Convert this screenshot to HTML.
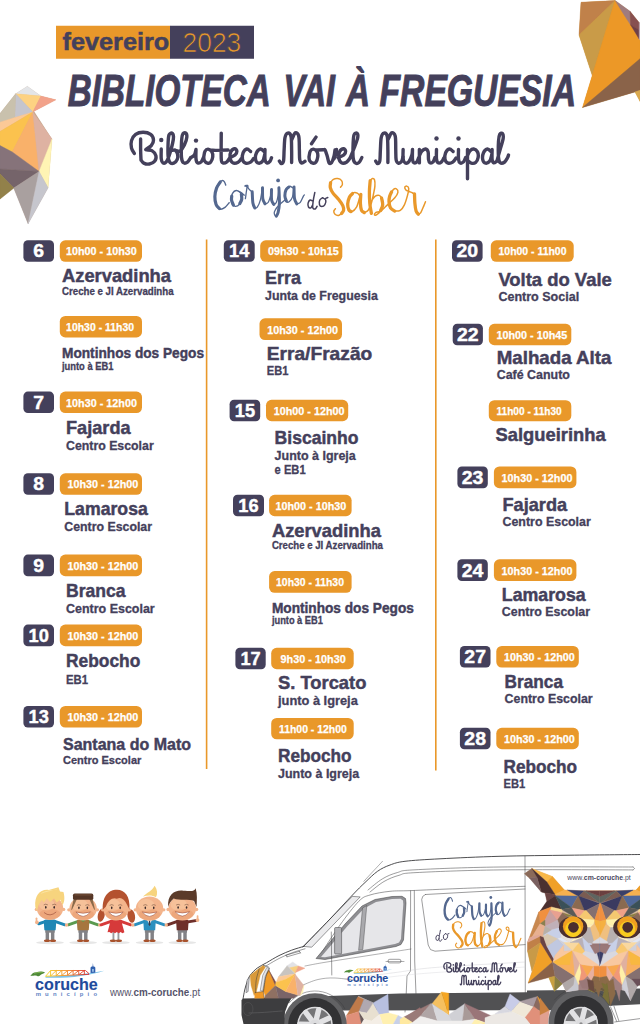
<!DOCTYPE html>
<html><head><meta charset="utf-8"><title>Biblioteca vai à Freguesia</title>
<style>
html,body{margin:0;padding:0;background:#fff;}
body{width:640px;height:1024px;overflow:hidden;font-family:"Liberation Sans",sans-serif;}
svg{display:block}
</style></head><body>
<svg width="640" height="1024" viewBox="0 0 640 1024">
<rect width="640" height="1024" fill="#fff"/>
<rect x="56" y="25.75" width="114.2" height="33" fill="#e9982a"/>
<rect x="170" y="25.75" width="84" height="33" fill="#44405b"/>
<text x="62.6" y="49.6" font-family="Liberation Sans, sans-serif" font-size="24" font-weight="700" font-style="normal" fill="#44405b" text-anchor="start" textLength="106.6" lengthAdjust="spacingAndGlyphs" stroke="#44405b" stroke-width="0.5">fevereiro</text>
<text x="182.6" y="51.9" font-family="Liberation Sans, sans-serif" font-size="27" font-weight="400" font-style="normal" fill="#e9982a" text-anchor="start" textLength="58.6" lengthAdjust="spacingAndGlyphs" stroke="#44405b" stroke-width="0.7">2023</text>
<text x="67.8" y="106.4" font-family="Liberation Sans, sans-serif" font-size="44" font-weight="700" font-style="italic" fill="#44405b" text-anchor="start" textLength="203.0" lengthAdjust="spacingAndGlyphs" stroke="#44405b" stroke-width="1">BIBLIOTECA</text>
<text x="283.5" y="106.4" font-family="Liberation Sans, sans-serif" font-size="44" font-weight="700" font-style="italic" fill="#44405b" text-anchor="start" textLength="51.5" lengthAdjust="spacingAndGlyphs" stroke="#44405b" stroke-width="1">VAI</text>
<text x="346.0" y="106.4" font-family="Liberation Sans, sans-serif" font-size="44" font-weight="700" font-style="italic" fill="#44405b" text-anchor="start" textLength="24.0" lengthAdjust="spacingAndGlyphs" stroke="#44405b" stroke-width="1">À</text>
<text x="379.5" y="106.4" font-family="Liberation Sans, sans-serif" font-size="44" font-weight="700" font-style="italic" fill="#44405b" text-anchor="start" textLength="196.5" lengthAdjust="spacingAndGlyphs" stroke="#44405b" stroke-width="1">FREGUESIA</text>
<rect x="205.8" y="239.5" width="1.6" height="529.5" fill="#e9982a"/>
<rect x="435" y="239.5" width="1.6" height="531" fill="#e9982a"/>
<rect x="23.4" y="240.3" width="30.6" height="21.5" rx="4.5" fill="#44405b"/>
<text x="38.7" y="257.3" font-family="Liberation Sans, sans-serif" font-size="18.3" font-weight="700" font-style="normal" fill="#fff" text-anchor="middle" textLength="10.8" lengthAdjust="spacingAndGlyphs" stroke="#fff" stroke-width="0.4">6</text>
<rect x="59.8" y="240.3" width="82.2" height="21.5" rx="5.5" fill="#e9982a"/>
<text x="66.0" y="255.3" font-family="Liberation Sans, sans-serif" font-size="11.6" font-weight="700" font-style="normal" fill="#fff" text-anchor="start" textLength="70.8" lengthAdjust="spacingAndGlyphs" stroke="#fff" stroke-width="0.25">10h00 - 10h30</text>
<text x="62.0" y="281.6" font-family="Liberation Sans, sans-serif" font-size="18.4" font-weight="700" font-style="normal" fill="#44405b" text-anchor="start" textLength="109.0" lengthAdjust="spacingAndGlyphs" stroke="#44405b" stroke-width="0.45">Azervadinha</text>
<text x="62.0" y="294.6" font-family="Liberation Sans, sans-serif" font-size="10.4" font-weight="700" font-style="normal" fill="#44405b" text-anchor="start" textLength="111.6" lengthAdjust="spacingAndGlyphs" stroke="#44405b" stroke-width="0.3">Creche e JI Azervadinha</text>
<rect x="59.8" y="316.0" width="82.2" height="21.4" rx="5.5" fill="#e9982a"/>
<text x="66.1" y="330.9" font-family="Liberation Sans, sans-serif" font-size="11.6" font-weight="700" font-style="normal" fill="#fff" text-anchor="start" textLength="68.0" lengthAdjust="spacingAndGlyphs" stroke="#fff" stroke-width="0.25">10h30 - 11h30</text>
<text x="62.0" y="357.9" font-family="Liberation Sans, sans-serif" font-size="14.8" font-weight="700" font-style="normal" fill="#44405b" text-anchor="start" textLength="142.0" lengthAdjust="spacingAndGlyphs" stroke="#44405b" stroke-width="0.45">Montinhos dos Pegos</text>
<text x="62.0" y="370.0" font-family="Liberation Sans, sans-serif" font-size="10.4" font-weight="700" font-style="normal" fill="#44405b" text-anchor="start" textLength="51.4" lengthAdjust="spacingAndGlyphs" stroke="#44405b" stroke-width="0.3">junto à EB1</text>
<rect x="23.4" y="391.6" width="30.6" height="21.4" rx="4.5" fill="#44405b"/>
<text x="38.7" y="408.5" font-family="Liberation Sans, sans-serif" font-size="18.3" font-weight="700" font-style="normal" fill="#fff" text-anchor="middle" textLength="10.8" lengthAdjust="spacingAndGlyphs" stroke="#fff" stroke-width="0.4">7</text>
<rect x="59.8" y="391.6" width="82.2" height="21.4" rx="5.5" fill="#e9982a"/>
<text x="66.1" y="406.5" font-family="Liberation Sans, sans-serif" font-size="11.6" font-weight="700" font-style="normal" fill="#fff" text-anchor="start" textLength="70.8" lengthAdjust="spacingAndGlyphs" stroke="#fff" stroke-width="0.25">10h30 - 12h00</text>
<text x="66.0" y="434.4" font-family="Liberation Sans, sans-serif" font-size="18.4" font-weight="700" font-style="normal" fill="#44405b" text-anchor="start" textLength="64.6" lengthAdjust="spacingAndGlyphs" stroke="#44405b" stroke-width="0.45">Fajarda</text>
<text x="66.0" y="450.0" font-family="Liberation Sans, sans-serif" font-size="12.8" font-weight="700" font-style="normal" fill="#44405b" text-anchor="start" textLength="87.7" lengthAdjust="spacingAndGlyphs" stroke="#44405b" stroke-width="0.3">Centro Escolar</text>
<rect x="23.4" y="473.3" width="30.6" height="21.5" rx="4.5" fill="#44405b"/>
<text x="38.7" y="490.3" font-family="Liberation Sans, sans-serif" font-size="18.3" font-weight="700" font-style="normal" fill="#fff" text-anchor="middle" textLength="10.8" lengthAdjust="spacingAndGlyphs" stroke="#fff" stroke-width="0.4">8</text>
<rect x="59.8" y="473.3" width="82.2" height="21.5" rx="5.5" fill="#e9982a"/>
<text x="67.5" y="488.3" font-family="Liberation Sans, sans-serif" font-size="11.6" font-weight="700" font-style="normal" fill="#fff" text-anchor="start" textLength="70.8" lengthAdjust="spacingAndGlyphs" stroke="#fff" stroke-width="0.25">10h30 - 12h00</text>
<text x="64.3" y="515.4" font-family="Liberation Sans, sans-serif" font-size="18.4" font-weight="700" font-style="normal" fill="#44405b" text-anchor="start" textLength="83.5" lengthAdjust="spacingAndGlyphs" stroke="#44405b" stroke-width="0.45">Lamarosa</text>
<text x="64.3" y="530.9" font-family="Liberation Sans, sans-serif" font-size="12.8" font-weight="700" font-style="normal" fill="#44405b" text-anchor="start" textLength="87.7" lengthAdjust="spacingAndGlyphs" stroke="#44405b" stroke-width="0.3">Centro Escolar</text>
<rect x="23.4" y="554.6" width="30.6" height="21.6" rx="4.5" fill="#44405b"/>
<text x="38.7" y="571.7" font-family="Liberation Sans, sans-serif" font-size="18.3" font-weight="700" font-style="normal" fill="#fff" text-anchor="middle" textLength="10.8" lengthAdjust="spacingAndGlyphs" stroke="#fff" stroke-width="0.4">9</text>
<rect x="59.8" y="554.6" width="82.2" height="21.6" rx="5.5" fill="#e9982a"/>
<text x="67.5" y="569.7" font-family="Liberation Sans, sans-serif" font-size="11.6" font-weight="700" font-style="normal" fill="#fff" text-anchor="start" textLength="70.8" lengthAdjust="spacingAndGlyphs" stroke="#fff" stroke-width="0.25">10h30 - 12h00</text>
<text x="66.0" y="597.2" font-family="Liberation Sans, sans-serif" font-size="18.4" font-weight="700" font-style="normal" fill="#44405b" text-anchor="start" textLength="59.5" lengthAdjust="spacingAndGlyphs" stroke="#44405b" stroke-width="0.45">Branca</text>
<text x="66.0" y="613.0" font-family="Liberation Sans, sans-serif" font-size="12.8" font-weight="700" font-style="normal" fill="#44405b" text-anchor="start" textLength="88.7" lengthAdjust="spacingAndGlyphs" stroke="#44405b" stroke-width="0.3">Centro Escolar</text>
<rect x="23.4" y="624.6" width="30.6" height="21.6" rx="4.5" fill="#44405b"/>
<text x="38.7" y="641.7" font-family="Liberation Sans, sans-serif" font-size="18.3" font-weight="700" font-style="normal" fill="#fff" text-anchor="middle" textLength="20.3" lengthAdjust="spacingAndGlyphs" stroke="#fff" stroke-width="0.4">10</text>
<rect x="59.8" y="624.6" width="82.2" height="21.6" rx="5.5" fill="#e9982a"/>
<text x="67.5" y="639.7" font-family="Liberation Sans, sans-serif" font-size="11.6" font-weight="700" font-style="normal" fill="#fff" text-anchor="start" textLength="70.8" lengthAdjust="spacingAndGlyphs" stroke="#fff" stroke-width="0.25">10h30 - 12h00</text>
<text x="66.0" y="667.3" font-family="Liberation Sans, sans-serif" font-size="18.4" font-weight="700" font-style="normal" fill="#44405b" text-anchor="start" textLength="74.3" lengthAdjust="spacingAndGlyphs" stroke="#44405b" stroke-width="0.45">Rebocho</text>
<text x="66.0" y="683.5" font-family="Liberation Sans, sans-serif" font-size="12.8" font-weight="700" font-style="normal" fill="#44405b" text-anchor="start" textLength="22.0" lengthAdjust="spacingAndGlyphs" stroke="#44405b" stroke-width="0.3">EB1</text>
<rect x="23.4" y="706.0" width="30.6" height="21.5" rx="4.5" fill="#44405b"/>
<text x="38.7" y="723.0" font-family="Liberation Sans, sans-serif" font-size="18.3" font-weight="700" font-style="normal" fill="#fff" text-anchor="middle" textLength="20.3" lengthAdjust="spacingAndGlyphs" stroke="#fff" stroke-width="0.4">13</text>
<rect x="59.8" y="706.0" width="82.2" height="21.5" rx="5.5" fill="#e9982a"/>
<text x="67.5" y="721.0" font-family="Liberation Sans, sans-serif" font-size="11.6" font-weight="700" font-style="normal" fill="#fff" text-anchor="start" textLength="70.8" lengthAdjust="spacingAndGlyphs" stroke="#fff" stroke-width="0.25">10h30 - 12h00</text>
<text x="63.0" y="750.3" font-family="Liberation Sans, sans-serif" font-size="16.8" font-weight="700" font-style="normal" fill="#44405b" text-anchor="start" textLength="128.0" lengthAdjust="spacingAndGlyphs" stroke="#44405b" stroke-width="0.45">Santana do Mato</text>
<text x="63.0" y="763.7" font-family="Liberation Sans, sans-serif" font-size="11.4" font-weight="700" font-style="normal" fill="#44405b" text-anchor="start" textLength="78.3" lengthAdjust="spacingAndGlyphs" stroke="#44405b" stroke-width="0.3">Centro Escolar</text>
<rect x="223.8" y="240.3" width="30.9" height="21.5" rx="4.5" fill="#44405b"/>
<text x="239.2" y="257.3" font-family="Liberation Sans, sans-serif" font-size="18.3" font-weight="700" font-style="normal" fill="#fff" text-anchor="middle" textLength="20.3" lengthAdjust="spacingAndGlyphs" stroke="#fff" stroke-width="0.4">14</text>
<rect x="260.2" y="240.3" width="82.1" height="21.5" rx="5.5" fill="#e9982a"/>
<text x="267.9" y="255.3" font-family="Liberation Sans, sans-serif" font-size="11.6" font-weight="700" font-style="normal" fill="#fff" text-anchor="start" textLength="70.8" lengthAdjust="spacingAndGlyphs" stroke="#fff" stroke-width="0.25">09h30 - 10h15</text>
<text x="265.0" y="284.3" font-family="Liberation Sans, sans-serif" font-size="18.4" font-weight="700" font-style="normal" fill="#44405b" text-anchor="start" textLength="36.0" lengthAdjust="spacingAndGlyphs" stroke="#44405b" stroke-width="0.45">Erra</text>
<text x="265.0" y="299.8" font-family="Liberation Sans, sans-serif" font-size="12.8" font-weight="700" font-style="normal" fill="#44405b" text-anchor="start" textLength="112.8" lengthAdjust="spacingAndGlyphs" stroke="#44405b" stroke-width="0.3">Junta de Freguesia</text>
<rect x="259.5" y="318.3" width="82.5" height="21.7" rx="5.5" fill="#e9982a"/>
<text x="267.2" y="333.5" font-family="Liberation Sans, sans-serif" font-size="11.6" font-weight="700" font-style="normal" fill="#fff" text-anchor="start" textLength="70.8" lengthAdjust="spacingAndGlyphs" stroke="#fff" stroke-width="0.25">10h30 - 12h00</text>
<text x="266.7" y="359.6" font-family="Liberation Sans, sans-serif" font-size="18.4" font-weight="700" font-style="normal" fill="#44405b" text-anchor="start" textLength="105.6" lengthAdjust="spacingAndGlyphs" stroke="#44405b" stroke-width="0.45">Erra/Frazão</text>
<text x="266.7" y="375.4" font-family="Liberation Sans, sans-serif" font-size="12.8" font-weight="700" font-style="normal" fill="#44405b" text-anchor="start" textLength="21.7" lengthAdjust="spacingAndGlyphs" stroke="#44405b" stroke-width="0.3">EB1</text>
<rect x="229.6" y="399.8" width="30.6" height="21.4" rx="4.5" fill="#44405b"/>
<text x="244.9" y="416.7" font-family="Liberation Sans, sans-serif" font-size="18.3" font-weight="700" font-style="normal" fill="#fff" text-anchor="middle" textLength="20.3" lengthAdjust="spacingAndGlyphs" stroke="#fff" stroke-width="0.4">15</text>
<rect x="266.0" y="399.8" width="82.2" height="21.4" rx="5.5" fill="#e9982a"/>
<text x="273.7" y="414.7" font-family="Liberation Sans, sans-serif" font-size="11.6" font-weight="700" font-style="normal" fill="#fff" text-anchor="start" textLength="70.8" lengthAdjust="spacingAndGlyphs" stroke="#fff" stroke-width="0.25">10h00 - 12h00</text>
<text x="274.6" y="443.8" font-family="Liberation Sans, sans-serif" font-size="18.4" font-weight="700" font-style="normal" fill="#44405b" text-anchor="start" textLength="83.9" lengthAdjust="spacingAndGlyphs" stroke="#44405b" stroke-width="0.45">Biscainho</text>
<text x="274.6" y="459.6" font-family="Liberation Sans, sans-serif" font-size="12.8" font-weight="700" font-style="normal" fill="#44405b" text-anchor="start" textLength="81.2" lengthAdjust="spacingAndGlyphs" stroke="#44405b" stroke-width="0.3">Junto à Igreja</text>
<text x="274.6" y="474.0" font-family="Liberation Sans, sans-serif" font-size="12.8" font-weight="700" font-style="normal" fill="#44405b" text-anchor="start" textLength="31.0" lengthAdjust="spacingAndGlyphs" stroke="#44405b" stroke-width="0.3">e EB1</text>
<rect x="233.0" y="494.8" width="31.0" height="21.4" rx="4.5" fill="#44405b"/>
<text x="248.5" y="511.7" font-family="Liberation Sans, sans-serif" font-size="18.3" font-weight="700" font-style="normal" fill="#fff" text-anchor="middle" textLength="20.3" lengthAdjust="spacingAndGlyphs" stroke="#fff" stroke-width="0.4">16</text>
<rect x="269.1" y="494.8" width="82.5" height="21.4" rx="5.5" fill="#e9982a"/>
<text x="275.5" y="509.7" font-family="Liberation Sans, sans-serif" font-size="11.6" font-weight="700" font-style="normal" fill="#fff" text-anchor="start" textLength="70.8" lengthAdjust="spacingAndGlyphs" stroke="#fff" stroke-width="0.25">10h00 - 10h30</text>
<text x="271.9" y="536.7" font-family="Liberation Sans, sans-serif" font-size="18.4" font-weight="700" font-style="normal" fill="#44405b" text-anchor="start" textLength="109.0" lengthAdjust="spacingAndGlyphs" stroke="#44405b" stroke-width="0.45">Azervadinha</text>
<text x="271.9" y="549.1" font-family="Liberation Sans, sans-serif" font-size="10.4" font-weight="700" font-style="normal" fill="#44405b" text-anchor="start" textLength="111.0" lengthAdjust="spacingAndGlyphs" stroke="#44405b" stroke-width="0.3">Creche e JI Azervadinha</text>
<rect x="269.1" y="571.1" width="82.5" height="21.7" rx="5.5" fill="#e9982a"/>
<text x="276.0" y="586.3" font-family="Liberation Sans, sans-serif" font-size="11.6" font-weight="700" font-style="normal" fill="#fff" text-anchor="start" textLength="68.0" lengthAdjust="spacingAndGlyphs" stroke="#fff" stroke-width="0.25">10h30 - 11h30</text>
<text x="271.9" y="613.0" font-family="Liberation Sans, sans-serif" font-size="14.8" font-weight="700" font-style="normal" fill="#44405b" text-anchor="start" textLength="142.0" lengthAdjust="spacingAndGlyphs" stroke="#44405b" stroke-width="0.45">Montinhos dos Pegos</text>
<text x="271.9" y="624.4" font-family="Liberation Sans, sans-serif" font-size="10.4" font-weight="700" font-style="normal" fill="#44405b" text-anchor="start" textLength="51.0" lengthAdjust="spacingAndGlyphs" stroke="#44405b" stroke-width="0.3">junto à EB1</text>
<rect x="235.4" y="647.8" width="30.3" height="21.4" rx="4.5" fill="#44405b"/>
<text x="250.6" y="664.7" font-family="Liberation Sans, sans-serif" font-size="18.3" font-weight="700" font-style="normal" fill="#fff" text-anchor="middle" textLength="20.3" lengthAdjust="spacingAndGlyphs" stroke="#fff" stroke-width="0.4">17</text>
<rect x="271.2" y="647.8" width="82.5" height="21.4" rx="5.5" fill="#e9982a"/>
<text x="280.5" y="662.7" font-family="Liberation Sans, sans-serif" font-size="11.6" font-weight="700" font-style="normal" fill="#fff" text-anchor="start" textLength="65.3" lengthAdjust="spacingAndGlyphs" stroke="#fff" stroke-width="0.25">9h30 - 10h30</text>
<text x="278.0" y="689.0" font-family="Liberation Sans, sans-serif" font-size="18.4" font-weight="700" font-style="normal" fill="#44405b" text-anchor="start" textLength="88.4" lengthAdjust="spacingAndGlyphs" stroke="#44405b" stroke-width="0.45">S. Torcato</text>
<text x="278.0" y="704.5" font-family="Liberation Sans, sans-serif" font-size="12.8" font-weight="700" font-style="normal" fill="#44405b" text-anchor="start" textLength="79.8" lengthAdjust="spacingAndGlyphs" stroke="#44405b" stroke-width="0.3">junto à Igreja</text>
<rect x="271.2" y="717.9" width="82.5" height="21.4" rx="5.5" fill="#e9982a"/>
<text x="278.9" y="732.8" font-family="Liberation Sans, sans-serif" font-size="11.6" font-weight="700" font-style="normal" fill="#fff" text-anchor="start" textLength="68.0" lengthAdjust="spacingAndGlyphs" stroke="#fff" stroke-width="0.25">11h00 - 12h00</text>
<text x="278.0" y="761.9" font-family="Liberation Sans, sans-serif" font-size="18.4" font-weight="700" font-style="normal" fill="#44405b" text-anchor="start" textLength="73.6" lengthAdjust="spacingAndGlyphs" stroke="#44405b" stroke-width="0.45">Rebocho</text>
<text x="278.0" y="777.7" font-family="Liberation Sans, sans-serif" font-size="12.8" font-weight="700" font-style="normal" fill="#44405b" text-anchor="start" textLength="81.2" lengthAdjust="spacingAndGlyphs" stroke="#44405b" stroke-width="0.3">Junto à Igreja</text>
<rect x="452.0" y="240.3" width="30.6" height="21.5" rx="4.5" fill="#44405b"/>
<text x="467.3" y="257.3" font-family="Liberation Sans, sans-serif" font-size="18.3" font-weight="700" font-style="normal" fill="#fff" text-anchor="middle" textLength="21.7" lengthAdjust="spacingAndGlyphs" stroke="#fff" stroke-width="0.4">20</text>
<rect x="490.8" y="240.3" width="82.9" height="21.5" rx="5.5" fill="#e9982a"/>
<text x="498.5" y="255.3" font-family="Liberation Sans, sans-serif" font-size="11.6" font-weight="700" font-style="normal" fill="#fff" text-anchor="start" textLength="68.0" lengthAdjust="spacingAndGlyphs" stroke="#fff" stroke-width="0.25">10h00 - 11h00</text>
<text x="498.4" y="285.7" font-family="Liberation Sans, sans-serif" font-size="18.4" font-weight="700" font-style="normal" fill="#44405b" text-anchor="start" textLength="113.4" lengthAdjust="spacingAndGlyphs" stroke="#44405b" stroke-width="0.45">Volta do Vale</text>
<text x="498.4" y="301.2" font-family="Liberation Sans, sans-serif" font-size="12.8" font-weight="700" font-style="normal" fill="#44405b" text-anchor="start" textLength="80.8" lengthAdjust="spacingAndGlyphs" stroke="#44405b" stroke-width="0.3">Centro Social</text>
<rect x="452.7" y="323.8" width="30.2" height="21.4" rx="4.5" fill="#44405b"/>
<text x="467.8" y="340.7" font-family="Liberation Sans, sans-serif" font-size="18.3" font-weight="700" font-style="normal" fill="#fff" text-anchor="middle" textLength="21.7" lengthAdjust="spacingAndGlyphs" stroke="#fff" stroke-width="0.4">22</text>
<rect x="488.8" y="323.8" width="82.5" height="21.4" rx="5.5" fill="#e9982a"/>
<text x="496.5" y="338.7" font-family="Liberation Sans, sans-serif" font-size="11.6" font-weight="700" font-style="normal" fill="#fff" text-anchor="start" textLength="70.8" lengthAdjust="spacingAndGlyphs" stroke="#fff" stroke-width="0.25">10h00 - 10h45</text>
<text x="496.7" y="364.0" font-family="Liberation Sans, sans-serif" font-size="18.4" font-weight="700" font-style="normal" fill="#44405b" text-anchor="start" textLength="114.8" lengthAdjust="spacingAndGlyphs" stroke="#44405b" stroke-width="0.45">Malhada Alta</text>
<text x="496.7" y="378.8" font-family="Liberation Sans, sans-serif" font-size="12.8" font-weight="700" font-style="normal" fill="#44405b" text-anchor="start" textLength="73.2" lengthAdjust="spacingAndGlyphs" stroke="#44405b" stroke-width="0.3">Café Canuto</text>
<rect x="488.8" y="400.2" width="82.5" height="21.0" rx="5.5" fill="#e9982a"/>
<text x="496.5" y="414.7" font-family="Liberation Sans, sans-serif" font-size="11.6" font-weight="700" font-style="normal" fill="#fff" text-anchor="start" textLength="65.2" lengthAdjust="spacingAndGlyphs" stroke="#fff" stroke-width="0.25">11h00 - 11h30</text>
<text x="495.6" y="440.7" font-family="Liberation Sans, sans-serif" font-size="18.4" font-weight="700" font-style="normal" fill="#44405b" text-anchor="start" textLength="110.0" lengthAdjust="spacingAndGlyphs" stroke="#44405b" stroke-width="0.45">Salgueirinha</text>
<rect x="457.4" y="466.5" width="30.4" height="21.7" rx="4.5" fill="#44405b"/>
<text x="472.6" y="483.7" font-family="Liberation Sans, sans-serif" font-size="18.3" font-weight="700" font-style="normal" fill="#fff" text-anchor="middle" textLength="21.7" lengthAdjust="spacingAndGlyphs" stroke="#fff" stroke-width="0.4">23</text>
<rect x="493.9" y="466.5" width="82.5" height="21.7" rx="5.5" fill="#e9982a"/>
<text x="501.6" y="481.7" font-family="Liberation Sans, sans-serif" font-size="11.6" font-weight="700" font-style="normal" fill="#fff" text-anchor="start" textLength="70.8" lengthAdjust="spacingAndGlyphs" stroke="#fff" stroke-width="0.25">10h30 - 12h00</text>
<text x="502.5" y="511.2" font-family="Liberation Sans, sans-serif" font-size="18.4" font-weight="700" font-style="normal" fill="#44405b" text-anchor="start" textLength="64.6" lengthAdjust="spacingAndGlyphs" stroke="#44405b" stroke-width="0.45">Fajarda</text>
<text x="502.5" y="526.3" font-family="Liberation Sans, sans-serif" font-size="12.8" font-weight="700" font-style="normal" fill="#44405b" text-anchor="start" textLength="88.3" lengthAdjust="spacingAndGlyphs" stroke="#44405b" stroke-width="0.3">Centro Escolar</text>
<rect x="457.4" y="559.3" width="30.4" height="21.7" rx="4.5" fill="#44405b"/>
<text x="472.6" y="576.5" font-family="Liberation Sans, sans-serif" font-size="18.3" font-weight="700" font-style="normal" fill="#fff" text-anchor="middle" textLength="21.7" lengthAdjust="spacingAndGlyphs" stroke="#fff" stroke-width="0.4">24</text>
<rect x="493.9" y="559.3" width="82.5" height="21.7" rx="5.5" fill="#e9982a"/>
<text x="501.6" y="574.5" font-family="Liberation Sans, sans-serif" font-size="11.6" font-weight="700" font-style="normal" fill="#fff" text-anchor="start" textLength="70.8" lengthAdjust="spacingAndGlyphs" stroke="#fff" stroke-width="0.25">10h30 - 12h00</text>
<text x="501.8" y="601.3" font-family="Liberation Sans, sans-serif" font-size="18.4" font-weight="700" font-style="normal" fill="#44405b" text-anchor="start" textLength="83.9" lengthAdjust="spacingAndGlyphs" stroke="#44405b" stroke-width="0.45">Lamarosa</text>
<text x="501.8" y="616.4" font-family="Liberation Sans, sans-serif" font-size="12.8" font-weight="700" font-style="normal" fill="#44405b" text-anchor="start" textLength="88.3" lengthAdjust="spacingAndGlyphs" stroke="#44405b" stroke-width="0.3">Centro Escolar</text>
<rect x="459.9" y="645.9" width="30.6" height="21.7" rx="4.5" fill="#44405b"/>
<text x="475.2" y="663.1" font-family="Liberation Sans, sans-serif" font-size="18.3" font-weight="700" font-style="normal" fill="#fff" text-anchor="middle" textLength="21.7" lengthAdjust="spacingAndGlyphs" stroke="#fff" stroke-width="0.4">27</text>
<rect x="496.3" y="645.9" width="82.5" height="21.7" rx="5.5" fill="#e9982a"/>
<text x="504.0" y="661.1" font-family="Liberation Sans, sans-serif" font-size="11.6" font-weight="700" font-style="normal" fill="#fff" text-anchor="start" textLength="70.8" lengthAdjust="spacingAndGlyphs" stroke="#fff" stroke-width="0.25">10h30 - 12h00</text>
<text x="504.6" y="687.9" font-family="Liberation Sans, sans-serif" font-size="18.4" font-weight="700" font-style="normal" fill="#44405b" text-anchor="start" textLength="58.4" lengthAdjust="spacingAndGlyphs" stroke="#44405b" stroke-width="0.45">Branca</text>
<text x="504.6" y="703.4" font-family="Liberation Sans, sans-serif" font-size="12.8" font-weight="700" font-style="normal" fill="#44405b" text-anchor="start" textLength="88.0" lengthAdjust="spacingAndGlyphs" stroke="#44405b" stroke-width="0.3">Centro Escolar</text>
<rect x="459.9" y="727.8" width="30.6" height="21.4" rx="4.5" fill="#44405b"/>
<text x="475.2" y="744.7" font-family="Liberation Sans, sans-serif" font-size="18.3" font-weight="700" font-style="normal" fill="#fff" text-anchor="middle" textLength="21.7" lengthAdjust="spacingAndGlyphs" stroke="#fff" stroke-width="0.4">28</text>
<rect x="496.3" y="727.8" width="82.5" height="21.4" rx="5.5" fill="#e9982a"/>
<text x="504.0" y="742.7" font-family="Liberation Sans, sans-serif" font-size="11.6" font-weight="700" font-style="normal" fill="#fff" text-anchor="start" textLength="70.8" lengthAdjust="spacingAndGlyphs" stroke="#fff" stroke-width="0.25">10h30 - 12h00</text>
<text x="503.5" y="772.5" font-family="Liberation Sans, sans-serif" font-size="18.4" font-weight="700" font-style="normal" fill="#44405b" text-anchor="start" textLength="73.6" lengthAdjust="spacingAndGlyphs" stroke="#44405b" stroke-width="0.45">Rebocho</text>
<text x="503.5" y="787.9" font-family="Liberation Sans, sans-serif" font-size="12.8" font-weight="700" font-style="normal" fill="#44405b" text-anchor="start" textLength="21.7" lengthAdjust="spacingAndGlyphs" stroke="#44405b" stroke-width="0.3">EB1</text>
<path d="M134.38 153.50 C133.90 152.60 131.98 150.27 131.50 148.12 C131.02 145.98 130.81 142.92 131.50 140.62 C132.19 138.33 133.69 135.77 135.62 134.38 C137.56 132.98 140.62 132.25 143.12 132.25 C145.62 132.25 148.90 133.08 150.62 134.38 C152.35 135.67 153.40 138.12 153.50 140.00 C153.60 141.88 152.56 144.02 151.25 145.62 C149.94 147.23 145.52 148.79 145.62 149.62 C145.73 150.46 150.17 149.62 151.88 150.62 C153.58 151.62 155.42 153.85 155.88 155.62 C156.33 157.40 155.71 159.85 154.62 161.25 C153.54 162.65 151.19 163.69 149.38 164.00 C147.56 164.31 145.15 163.79 143.75 163.12 C142.35 162.46 141.46 160.52 141.00 160.00 M140.62 139.00 C140.62 140.83 140.56 146.50 140.62 150.00 C140.69 153.50 140.94 158.33 141.00 160.00 M161.25 149.00 C161.25 150.62 160.98 156.44 161.25 158.75 C161.52 161.06 162.04 162.35 162.88 162.88 C163.71 163.40 165.17 163.19 166.25 161.88 C167.33 160.56 168.33 158.02 169.38 155.00 C170.42 151.98 171.81 146.77 172.50 143.75 C173.19 140.73 173.60 138.65 173.50 136.88 C173.40 135.10 172.62 133.44 171.88 133.12 C171.12 132.81 169.62 133.44 169.00 135.00 C168.38 136.56 168.27 138.96 168.12 142.50 C167.98 146.04 167.85 152.96 168.12 156.25 C168.40 159.54 168.81 161.10 169.75 162.25 C170.69 163.40 172.50 163.60 173.75 163.12 C175.00 162.65 176.62 160.94 177.25 159.38 C177.88 157.81 177.88 155.31 177.50 153.75 C177.12 152.19 175.83 150.56 175.00 150.00 C174.17 149.44 172.92 150.31 172.50 150.38 M175.62 150.38 C176.35 150.48 178.54 151.90 180.00 151.00 C181.46 150.10 183.23 147.35 184.38 145.00 C185.52 142.65 186.73 138.90 186.88 136.88 C187.02 134.85 185.98 133.23 185.25 132.88 C184.52 132.52 183.12 133.15 182.50 134.75 C181.88 136.35 181.67 138.71 181.50 142.50 C181.33 146.29 181.17 154.12 181.50 157.50 C181.83 160.88 182.50 161.98 183.50 162.75 C184.50 163.52 186.31 162.96 187.50 162.12 C188.69 161.29 190.10 158.48 190.62 157.75" fill="none" stroke="#44405b" stroke-width="3.4" stroke-linecap="round" stroke-linejoin="round"/>
<circle cx="161.25" cy="140.00" r="2.2" fill="#44405b"/>
<path d="M190.62 157.75 C191.25 157.29 193.48 156.40 194.38 155.00 C195.27 153.60 195.73 150.31 196.00 149.38 M196.00 149.38 C196.00 150.94 195.75 156.52 196.00 158.75 C196.25 160.98 196.62 162.23 197.50 162.75 C198.38 163.27 200.21 162.85 201.25 161.88 C202.29 160.90 203.33 157.71 203.75 156.88 M203.75 156.88 C203.96 155.94 204.27 152.54 205.00 151.25 C205.73 149.96 206.98 149.02 208.12 149.12 C209.27 149.23 211.10 150.58 211.88 151.88 C212.65 153.17 212.96 155.15 212.75 156.88 C212.54 158.60 211.50 161.21 210.62 162.25 C209.75 163.29 208.54 163.40 207.50 163.12 C206.46 162.85 205.00 161.67 204.38 160.62 C203.75 159.58 203.85 157.50 203.75 156.88 M210.00 150.00 L215.62 150.38 M221.25 133.12 C221.25 137.40 221.00 153.81 221.25 158.75 C221.50 163.69 221.81 162.23 222.75 162.75 C223.69 163.27 225.71 162.71 226.88 161.88 C228.04 161.04 229.27 158.44 229.75 157.75 M215.00 150.38 L228.12 150.00 M229.75 157.75 C230.62 157.29 233.81 156.08 235.00 155.00 C236.19 153.92 236.92 152.29 236.88 151.25 C236.83 150.21 235.73 148.71 234.75 148.75 C233.77 148.79 231.79 150.00 231.00 151.50 C230.21 153.00 229.69 155.85 230.00 157.75 C230.31 159.65 231.52 162.12 232.88 162.88 C234.23 163.62 236.69 162.98 238.12 162.25 C239.56 161.52 240.94 159.12 241.50 158.50 M250.62 151.50 C250.00 151.08 248.12 148.79 246.88 149.00 C245.62 149.21 243.85 151.02 243.12 152.75 C242.40 154.48 242.08 157.65 242.50 159.38 C242.92 161.10 244.27 162.67 245.62 163.12 C246.98 163.58 249.31 162.90 250.62 162.12 C251.94 161.35 253.02 159.10 253.50 158.50" fill="none" stroke="#44405b" stroke-width="3.4" stroke-linecap="round" stroke-linejoin="round"/>
<circle cx="196.00" cy="140.62" r="2.2" fill="#44405b"/>
<path d="M264.38 151.88 C263.75 151.40 261.94 148.85 260.62 149.00 C259.31 149.15 257.33 150.96 256.50 152.75 C255.67 154.54 255.29 158.02 255.62 159.75 C255.96 161.48 257.31 162.92 258.50 163.12 C259.69 163.33 261.71 162.46 262.75 161.00 C263.79 159.54 264.42 155.48 264.75 154.38 M265.00 149.38 C265.00 151.04 264.69 157.12 265.00 159.38 C265.31 161.62 266.04 162.56 266.88 162.88 C267.71 163.19 269.23 162.10 270.00 161.25 C270.77 160.40 271.25 158.33 271.50 157.75 M279.38 161.00 C279.69 161.42 280.56 163.46 281.25 163.50 C281.94 163.54 283.02 163.50 283.50 161.25 C283.98 159.00 283.88 153.96 284.12 150.00 C284.38 146.04 284.40 140.31 285.00 137.50 C285.60 134.69 286.75 133.33 287.75 133.12 C288.75 132.92 290.35 133.44 291.00 136.25 C291.65 139.06 291.52 145.62 291.62 150.00 C291.73 154.38 291.62 160.42 291.62 162.50 M291.62 140.00 C292.23 138.81 294.06 133.50 295.25 132.88 C296.44 132.25 298.06 133.40 298.75 136.25 C299.44 139.10 299.21 146.08 299.38 150.00 C299.54 153.92 299.33 157.56 299.75 159.75 C300.17 161.94 301.00 162.88 301.88 163.12 C302.75 163.38 304.48 161.56 305.00 161.25 M309.00 156.88 C309.21 155.94 309.52 152.54 310.25 151.25 C310.98 149.96 312.23 149.02 313.38 149.12 C314.52 149.23 316.40 150.58 317.12 151.88 C317.85 153.17 317.96 155.15 317.75 156.88 C317.54 158.60 316.71 161.21 315.88 162.25 C315.04 163.29 313.79 163.40 312.75 163.12 C311.71 162.85 310.25 161.67 309.62 160.62 C309.00 159.58 309.10 157.50 309.00 156.88 M311.50 143.75 L316.00 137.12 M315.62 150.00 C316.88 149.96 321.56 149.75 323.12 149.75 C324.69 149.75 324.31 148.92 325.00 150.00 C325.69 151.08 326.58 154.12 327.25 156.25 C327.92 158.38 328.29 161.67 329.00 162.75 C329.71 163.83 330.67 163.83 331.50 162.75 C332.33 161.67 333.42 158.38 334.00 156.25 C334.58 154.12 334.83 151.04 335.00 150.00" fill="none" stroke="#44405b" stroke-width="3.4" stroke-linecap="round" stroke-linejoin="round"/>
<path d="M334.00 158.75 C334.33 157.92 335.58 155.31 336.00 153.75 C336.42 152.19 336.42 150.10 336.50 149.38 M338.12 157.75 C339.06 157.29 342.50 156.08 343.75 155.00 C345.00 153.92 345.67 152.29 345.62 151.25 C345.58 150.21 344.48 148.71 343.50 148.75 C342.52 148.79 340.54 150.00 339.75 151.50 C338.96 153.00 338.44 155.85 338.75 157.75 C339.06 159.65 340.33 162.12 341.62 162.88 C342.92 163.62 345.10 163.04 346.50 162.25 C347.90 161.46 349.42 158.81 350.00 158.12 M350.00 158.12 C350.73 156.35 353.08 150.94 354.38 147.50 C355.67 144.06 357.33 139.90 357.75 137.50 C358.17 135.10 357.50 133.54 356.88 133.12 C356.25 132.71 354.62 133.23 354.00 135.00 C353.38 136.77 353.27 140.00 353.12 143.75 C352.98 147.50 352.81 154.33 353.12 157.50 C353.44 160.67 354.02 161.92 355.00 162.75 C355.98 163.58 357.85 163.38 359.00 162.50 C360.15 161.62 361.40 158.33 361.88 157.50" fill="none" stroke="#44405b" stroke-width="3.4" stroke-linecap="round" stroke-linejoin="round"/>
<path d="M375.62 161.00 C375.94 161.42 376.81 163.46 377.50 163.50 C378.19 163.54 379.27 163.50 379.75 161.25 C380.23 159.00 380.12 153.96 380.38 150.00 C380.62 146.04 380.65 140.31 381.25 137.50 C381.85 134.69 383.00 133.33 384.00 133.12 C385.00 132.92 386.60 133.44 387.25 136.25 C387.90 139.06 387.77 145.62 387.88 150.00 C387.98 154.38 387.88 160.42 387.88 162.50 M387.88 140.00 C388.50 138.81 390.40 133.50 391.62 132.88 C392.85 132.25 394.56 133.40 395.25 136.25 C395.94 139.10 395.60 146.08 395.75 150.00 C395.90 153.92 395.71 157.56 396.12 159.75 C396.54 161.94 397.35 162.83 398.25 163.12 C399.15 163.42 400.71 162.54 401.50 161.50 C402.29 160.46 402.75 157.65 403.00 156.88" fill="none" stroke="#44405b" stroke-width="3.4" stroke-linecap="round" stroke-linejoin="round"/>
<path d="M403.12 149.38 C403.12 150.94 402.81 156.50 403.12 158.75 C403.44 161.00 404.06 162.35 405.00 162.88 C405.94 163.40 407.60 163.19 408.75 161.88 C409.90 160.56 411.25 157.08 411.88 155.00 C412.50 152.92 412.40 150.31 412.50 149.38 M412.50 149.38 C412.50 151.04 412.25 157.12 412.50 159.38 C412.75 161.62 413.27 162.46 414.00 162.88 C414.73 163.29 416.08 162.77 416.88 161.88 C417.67 160.98 418.44 158.23 418.75 157.50 M419.38 149.38 L419.38 162.88 M419.38 155.62 C419.79 154.85 420.83 152.10 421.88 151.00 C422.92 149.90 424.58 148.85 425.62 149.00 C426.67 149.15 427.65 150.15 428.12 151.88 C428.60 153.60 428.19 157.54 428.50 159.38 C428.81 161.21 429.23 162.46 430.00 162.88 C430.77 163.29 432.29 162.77 433.12 161.88 C433.96 160.98 434.69 158.23 435.00 157.50 M436.50 149.38 C436.50 150.98 436.23 156.75 436.50 159.00 C436.77 161.25 437.29 162.40 438.12 162.88 C438.96 163.35 440.56 162.67 441.50 161.88 C442.44 161.08 443.38 158.75 443.75 158.12 M453.12 151.50 C452.50 151.08 450.62 148.79 449.38 149.00 C448.12 149.21 446.35 151.02 445.62 152.75 C444.90 154.48 444.58 157.65 445.00 159.38 C445.42 161.10 446.83 162.67 448.12 163.12 C449.42 163.58 451.44 162.96 452.75 162.12 C454.06 161.29 455.46 158.79 456.00 158.12 M458.50 149.38 C458.50 150.98 458.25 156.75 458.50 159.00 C458.75 161.25 459.17 162.40 460.00 162.88 C460.83 163.35 462.56 162.77 463.50 161.88 C464.44 160.98 465.27 158.23 465.62 157.50" fill="none" stroke="#44405b" stroke-width="3.4" stroke-linecap="round" stroke-linejoin="round"/>
<circle cx="436.50" cy="138.50" r="2.2" fill="#44405b"/>
<circle cx="458.50" cy="138.50" r="2.2" fill="#44405b"/>
<path d="M467.50 149.38 L467.50 178.75 M467.50 155.62 C467.92 154.83 468.96 151.98 470.00 150.88 C471.04 149.77 472.50 148.83 473.75 149.00 C475.00 149.17 476.77 150.46 477.50 151.88 C478.23 153.29 478.44 155.73 478.12 157.50 C477.81 159.27 476.77 161.56 475.62 162.50 C474.48 163.44 472.54 163.44 471.25 163.12 C469.96 162.81 468.44 161.04 467.88 160.62 M491.25 151.88 C490.62 151.40 488.79 148.85 487.50 149.00 C486.21 149.15 484.29 150.96 483.50 152.75 C482.71 154.54 482.40 158.02 482.75 159.75 C483.10 161.48 484.46 162.92 485.62 163.12 C486.79 163.33 488.71 162.46 489.75 161.00 C490.79 159.54 491.52 155.48 491.88 154.38 M492.12 149.38 C492.12 151.04 491.85 157.12 492.12 159.38 C492.40 161.62 492.96 162.56 493.75 162.88 C494.54 163.19 496.35 161.52 496.88 161.25 M496.88 161.25 C497.40 159.38 498.96 153.75 500.00 150.00 C501.04 146.25 502.71 141.50 503.12 138.75 C503.54 136.00 503.06 134.23 502.50 133.50 C501.94 132.77 500.42 133.08 499.75 134.38 C499.08 135.67 498.71 137.40 498.50 141.25 C498.29 145.10 498.21 153.92 498.50 157.50 C498.79 161.08 499.27 161.96 500.25 162.75 C501.23 163.54 503.17 163.08 504.38 162.25 C505.58 161.42 506.81 158.96 507.50 157.75 C508.19 156.54 508.33 155.46 508.50 155.00" fill="none" stroke="#44405b" stroke-width="3.4" stroke-linecap="round" stroke-linejoin="round"/>
<path d="M225.75 185.12 C225.55 184.61 225.05 182.81 224.53 182.03 C224.02 181.25 223.52 180.36 222.66 180.44 C221.80 180.52 220.47 181.06 219.37 182.50 C218.28 183.94 216.87 186.72 216.09 189.06 C215.31 191.41 214.69 193.91 214.69 196.56 C214.69 199.22 215.16 202.89 216.09 205.00 C217.03 207.11 218.83 208.83 220.31 209.22 C221.80 209.61 223.52 208.44 225.00 207.34 C226.48 206.25 228.52 203.44 229.22 202.66 M231.37 198.44 C231.56 197.58 231.69 194.61 232.50 193.28 C233.31 191.95 234.92 190.55 236.25 190.47 C237.58 190.39 239.53 191.64 240.47 192.81 C241.41 193.98 242.03 195.62 241.87 197.50 C241.72 199.37 240.62 202.58 239.53 204.06 C238.44 205.55 236.56 206.48 235.31 206.41 C234.06 206.33 232.69 204.92 232.03 203.59 C231.37 202.26 231.48 199.30 231.37 198.44 M238.12 191.12 C238.67 191.41 240.39 192.14 241.41 192.81 C242.42 193.48 243.75 194.77 244.22 195.16" fill="none" stroke="#54688f" stroke-width="1.4" stroke-linecap="round" stroke-linejoin="round"/>
<path d="M220.31 182.03 C219.69 183.05 217.47 185.70 216.56 188.12 C215.66 190.55 214.95 193.83 214.87 196.56 C214.80 199.30 215.34 202.53 216.09 204.53 C216.84 206.53 218.83 207.89 219.37 208.56 M231.75 196.09 C231.72 196.80 231.28 198.80 231.56 200.31 C231.84 201.83 233.12 204.37 233.44 205.19 M241.41 194.22 C241.45 195.08 241.95 197.81 241.69 199.37 C241.42 200.94 240.12 202.89 239.81 203.59" fill="none" stroke="#54688f" stroke-width="3.2" stroke-linecap="round" stroke-linejoin="round"/>
<path d="M245.40 198.60 C245.55 197.50 246.05 193.97 246.30 192.00 C246.55 190.03 247.15 187.80 246.90 186.80 C246.65 185.80 244.68 186.23 244.80 186.00 C244.92 185.77 247.03 185.07 247.60 185.40 C248.17 185.73 247.73 187.15 248.20 188.00 C248.67 188.85 249.73 189.87 250.40 190.50 C251.07 191.13 251.90 191.58 252.20 191.80 M254.80 208.00 C255.22 207.87 256.37 208.55 257.30 207.20 C258.23 205.85 259.57 203.10 260.40 199.90 C261.23 196.70 261.98 189.98 262.30 188.00 M265.00 203.80 C265.52 203.58 267.17 203.87 268.10 202.50 C269.03 201.13 270.02 197.78 270.60 195.60 C271.18 193.42 271.43 190.43 271.60 189.40 M273.80 204.40 C274.22 204.08 275.58 203.97 276.30 202.50 C277.02 201.03 277.65 198.10 278.10 195.60 C278.55 193.10 278.85 188.85 279.00 187.50 M276.30 216.20 C276.03 216.00 275.02 215.72 274.70 215.00 C274.38 214.28 274.03 213.15 274.40 211.90 C274.77 210.65 275.75 208.97 276.90 207.50 C278.05 206.03 279.95 204.35 281.30 203.10 C282.65 201.85 284.38 200.52 285.00 200.00 M292.90 187.90 C292.32 187.63 290.57 185.98 289.40 186.30 C288.23 186.62 286.68 188.17 285.90 189.80 C285.12 191.43 284.63 194.13 284.70 196.10 C284.77 198.07 285.52 200.68 286.30 201.60 C287.08 202.52 288.37 202.38 289.40 201.60 C290.43 200.82 291.78 199.00 292.50 196.90 C293.22 194.80 293.50 190.32 293.70 189.00 M296.80 203.90 C297.38 203.63 299.20 203.60 300.30 202.30 C301.40 201.00 302.72 197.33 303.40 196.10 C304.08 194.87 304.23 195.10 304.40 194.90" fill="none" stroke="#54688f" stroke-width="1.3" stroke-linecap="round" stroke-linejoin="round"/>
<path d="M252.20 191.80 C252.32 193.67 252.47 200.30 252.90 203.00 C253.33 205.70 254.48 207.17 254.80 208.00 M262.50 187.80 C262.55 189.63 262.38 196.13 262.80 198.80 C263.22 201.47 264.63 202.97 265.00 203.80 M271.50 189.60 C271.52 191.33 271.22 197.53 271.60 200.00 C271.98 202.47 273.43 203.67 273.80 204.40 M278.90 187.80 C278.98 190.35 279.53 198.98 279.40 203.10 C279.27 207.22 278.62 210.32 278.10 212.50 C277.58 214.68 276.60 215.58 276.30 216.20 M288.60 187.20 C288.15 187.70 286.52 188.72 285.90 190.20 C285.28 191.68 284.82 194.30 284.90 196.10 C284.98 197.90 286.15 200.18 286.40 201.00 M294.00 186.90 C294.08 188.82 294.03 195.57 294.50 198.40 C294.97 201.23 296.42 202.98 296.80 203.90" fill="none" stroke="#54688f" stroke-width="3.0" stroke-linecap="round" stroke-linejoin="round"/>
<circle cx="278.10" cy="180.40" r="1.9" fill="#54688f"/>
<path d="M312.40 200.80 C312.02 200.67 310.82 199.62 310.10 200.00 C309.38 200.38 308.37 201.93 308.10 203.10 C307.83 204.27 308.03 206.22 308.50 207.00 C308.97 207.78 310.18 208.18 310.90 207.80 C311.62 207.42 312.48 205.22 312.80 204.70 M314.80 192.60 C314.53 193.97 313.53 198.27 313.20 200.80 C312.87 203.33 312.47 206.43 312.80 207.80 C313.13 209.17 314.48 209.25 315.20 209.00 C315.92 208.75 316.78 206.75 317.10 206.30 M322.60 197.70 C322.13 198.08 320.32 198.83 319.80 200.00 C319.28 201.17 319.17 203.60 319.50 204.70 C319.83 205.80 320.90 206.60 321.80 206.60 C322.70 206.60 324.25 205.80 324.90 204.70 C325.55 203.60 326.08 201.17 325.70 200.00 C325.32 198.83 323.12 198.08 322.60 197.70 M325.70 198.40 L327.80 197.50" fill="none" stroke="#44405b" stroke-width="1.5" stroke-linecap="round" stroke-linejoin="round"/>
<path d="M340.50 187.20 C340.82 186.75 342.22 185.60 342.40 184.50 C342.58 183.40 342.38 181.58 341.60 180.60 C340.82 179.62 339.07 178.80 337.70 178.60 C336.33 178.40 334.63 178.68 333.40 179.40 C332.17 180.12 330.82 182.32 330.30 182.90 M341.60 213.40 C341.08 213.73 339.60 215.27 338.50 215.40 C337.40 215.53 335.78 214.92 335.00 214.20 C334.22 213.48 333.73 212.02 333.80 211.10 C333.87 210.18 335.13 209.10 335.40 208.70 M359.60 195.40 C359.22 195.02 358.28 193.55 357.30 193.10 C356.32 192.65 355.02 192.05 353.70 192.70 C352.38 193.35 350.43 195.12 349.40 197.00 C348.37 198.88 347.62 201.78 347.50 204.00 C347.38 206.22 347.98 209.00 348.70 210.30 C349.42 211.60 350.50 212.32 351.80 211.80 C353.10 211.28 355.20 209.53 356.50 207.20 C357.80 204.87 359.08 199.37 359.60 197.80 M364.30 212.60 C364.95 212.22 367.02 211.90 368.20 210.30 C369.38 208.70 370.52 205.72 371.40 203.00 C372.28 200.28 372.92 196.82 373.50 194.00 C374.08 191.18 374.73 188.47 374.90 186.10 C375.07 183.73 374.90 181.05 374.50 179.80 C374.10 178.55 373.22 178.47 372.50 178.60 C371.78 178.73 370.58 180.27 370.20 180.60 M371.40 200.90 C372.05 200.12 374.00 197.12 375.30 196.20 C376.60 195.28 378.10 195.00 379.20 195.40 C380.30 195.80 381.32 197.03 381.90 198.60 C382.48 200.17 382.95 202.72 382.70 204.80 C382.45 206.88 381.38 209.47 380.40 211.10 C379.42 212.73 377.78 213.95 376.80 214.60 C375.82 215.25 374.68 215.33 374.50 215.00 C374.32 214.67 374.72 213.25 375.70 212.60 C376.68 211.95 378.78 212.07 380.40 211.10 C382.02 210.13 383.97 208.10 385.40 206.80 C386.83 205.50 388.40 203.88 389.00 203.30 M389.00 203.30 C389.97 202.38 393.32 199.63 394.80 197.80 C396.28 195.97 397.63 193.80 397.90 192.30 C398.17 190.80 397.17 189.25 396.40 188.80 C395.63 188.35 394.35 188.62 393.30 189.60 C392.25 190.58 390.63 193.85 390.10 194.70 M394.80 211.10 C395.72 210.97 398.70 211.35 400.30 210.30 C401.90 209.25 403.20 207.28 404.40 204.80 C405.60 202.32 406.78 198.13 407.50 195.40 C408.22 192.67 408.83 189.95 408.70 188.40 C408.57 186.85 407.35 186.30 406.70 186.10 C406.05 185.90 404.93 186.55 404.80 187.20 C404.67 187.85 405.18 189.28 405.90 190.00 C406.62 190.72 408.05 191.05 409.10 191.50 C410.15 191.95 411.30 192.30 412.20 192.70 C413.10 193.10 414.12 193.70 414.50 193.90 M418.40 214.20 C418.80 213.93 419.88 214.03 420.80 212.60 C421.72 211.17 423.12 207.42 423.90 205.60 C424.68 203.78 425.23 202.35 425.50 201.70" fill="none" stroke="#e9982a" stroke-width="1.5" stroke-linecap="round" stroke-linejoin="round"/>
<path d="M330.60 182.60 C330.55 183.43 329.90 185.85 330.30 187.60 C330.70 189.35 331.63 191.15 333.00 193.10 C334.37 195.05 336.87 197.22 338.50 199.30 C340.13 201.38 341.95 203.77 342.80 205.60 C343.65 207.43 343.80 209.00 343.60 210.30 C343.40 211.60 341.93 212.88 341.60 213.40 M352.50 193.60 C351.98 194.20 350.20 195.47 349.40 197.20 C348.60 198.93 347.78 201.87 347.70 204.00 C347.62 206.13 348.35 208.73 348.90 210.00 C349.45 211.27 350.65 211.33 351.00 211.60 M360.80 194.30 C360.73 195.80 360.28 200.63 360.40 203.30 C360.52 205.97 360.85 208.75 361.50 210.30 C362.15 211.85 363.83 212.22 364.30 212.60 M370.20 180.60 C370.07 182.42 369.47 187.72 369.40 191.50 C369.33 195.28 369.53 200.03 369.80 203.30 C370.07 206.57 370.73 209.42 371.00 211.10 C371.27 212.78 371.33 213.02 371.40 213.40 M381.60 198.20 C381.78 199.30 382.87 202.73 382.70 204.80 C382.53 206.87 380.95 209.63 380.60 210.60 M391.60 192.00 C391.27 192.75 390.03 194.88 389.60 196.50 C389.17 198.12 388.85 199.80 389.00 201.70 C389.15 203.60 389.53 206.33 390.50 207.90 C391.47 209.47 394.08 210.57 394.80 211.10 M414.50 193.90 C414.57 195.47 414.63 200.43 414.90 203.30 C415.17 206.17 415.52 209.28 416.10 211.10 C416.68 212.92 418.02 213.68 418.40 214.20" fill="none" stroke="#e9982a" stroke-width="3.3" stroke-linecap="round" stroke-linejoin="round"/>
<polygon points="27.34,86.25 40.94,96.09 55.94,99.84 34.06,111.25 52.03,139.06 48.12,187.81 28.12,223.75 13.75,188.12 0.00,199.06 0.00,113.59 15.62,93.75" fill="#c8a890"/>
<polygon points="27.34,86.25 40.94,96.09 15.62,93.75" fill="#e3e5e8" stroke="#e3e5e8" stroke-width="0.4" stroke-linejoin="round"/>
<polygon points="15.62,93.75 40.94,96.09 32.81,112.03" fill="#fdd282" stroke="#fdd282" stroke-width="0.4" stroke-linejoin="round"/>
<polygon points="40.94,96.09 55.94,99.84 34.06,111.25 32.81,112.03" fill="#f2a28a" stroke="#f2a28a" stroke-width="0.4" stroke-linejoin="round"/>
<polygon points="15.62,93.75 32.81,112.03 14.84,117.50" fill="#c5c5cd" stroke="#c5c5cd" stroke-width="0.4" stroke-linejoin="round"/>
<polygon points="15.62,93.75 14.84,117.50 0.00,122.19 0.00,113.59" fill="#c9c1ad" stroke="#c9c1ad" stroke-width="0.4" stroke-linejoin="round"/>
<polygon points="0.00,122.19 14.84,117.50 32.81,112.03 0.00,131.56" fill="#fbc997" stroke="#fbc997" stroke-width="0.4" stroke-linejoin="round"/>
<polygon points="0.00,131.56 32.81,112.03 12.19,151.88 0.00,145.62" fill="#fbc24e" stroke="#fbc24e" stroke-width="0.4" stroke-linejoin="round"/>
<polygon points="32.81,112.03 39.06,171.41 12.19,151.88" fill="#f9b16a" stroke="#f9b16a" stroke-width="0.4" stroke-linejoin="round"/>
<polygon points="32.81,112.03 52.03,139.06 39.06,171.41" fill="#deb2a2" stroke="#deb2a2" stroke-width="0.4" stroke-linejoin="round"/>
<polygon points="52.03,139.06 48.12,187.81 39.06,171.41" fill="#fff4b4" stroke="#fff4b4" stroke-width="0.4" stroke-linejoin="round"/>
<polygon points="0.00,145.62 12.19,151.88 39.06,171.41 0.00,169.06" fill="#86737a" stroke="#86737a" stroke-width="0.4" stroke-linejoin="round"/>
<polygon points="0.00,169.06 39.06,171.41 13.75,188.12 0.00,173.75" fill="#75646a" stroke="#75646a" stroke-width="0.4" stroke-linejoin="round"/>
<polygon points="0.00,173.75 13.75,188.12 0.00,199.06" fill="#92814a" stroke="#92814a" stroke-width="0.4" stroke-linejoin="round"/>
<polygon points="13.75,188.12 39.06,171.41 28.12,223.75" fill="#a9a09f" stroke="#a9a09f" stroke-width="0.4" stroke-linejoin="round"/>
<polygon points="39.06,171.41 48.12,187.81 28.12,223.75" fill="#c6c6cd" stroke="#c6c6cd" stroke-width="0.4" stroke-linejoin="round"/>
<polygon points="581.00,2.25 615.00,0.62 630.00,11.25 639.12,22.50 640.12,23.75 640.12,101.50 635.00,91.88 582.50,107.50 592.25,75.62 579.00,35.00" fill="#d99a3a"/>
<polygon points="581.00,2.25 615.00,0.62 579.00,35.00" fill="#c0814a" stroke="#c0814a" stroke-width="0.4" stroke-linejoin="round"/>
<polygon points="615.00,0.62 592.25,75.62 579.00,35.00" fill="#c99b48" stroke="#c99b48" stroke-width="0.4" stroke-linejoin="round"/>
<polygon points="615.00,0.62 640.00,37.50 640.00,58.75 582.50,107.50 592.25,75.62" fill="#ec9827" stroke="#ec9827" stroke-width="0.4" stroke-linejoin="round"/>
<polygon points="640.00,58.75 640.00,90.25 635.00,91.88 582.50,107.50" fill="#8a6349" stroke="#8a6349" stroke-width="0.4" stroke-linejoin="round"/>
<polygon points="635.00,91.88 640.00,90.25 640.00,101.50" fill="#d9a94f" stroke="#d9a94f" stroke-width="0.4" stroke-linejoin="round"/>
<polygon points="615.25,0.62 630.00,11.25 630.62,25.00 622.50,12.50" fill="#9f7c7e" stroke="#9f7c7e" stroke-width="0.4" stroke-linejoin="round"/>
<polygon points="630.00,11.25 639.12,22.50 639.12,30.00 630.62,25.00" fill="#875050" stroke="#875050" stroke-width="0.4" stroke-linejoin="round"/>
<polygon points="630.62,25.00 639.12,30.00 639.12,39.00 633.12,29.00" fill="#6e4048" stroke="#6e4048" stroke-width="0.4" stroke-linejoin="round"/>
<polygon points="639.12,22.50 640.12,23.75 640.12,40.25 639.12,39.00" fill="#bca6b4" stroke="#bca6b4" stroke-width="0.4" stroke-linejoin="round"/>
<path d="M352.5 895.0 L365.0 882.5 L377.5 871.3 L390.0 865.0 L405.0 861.3 L440.0 858.8 L500.0 856.3 L640.0 854.5 L640.0 1024.0 L243.0 1024.0 L242.0 1000.0 L243.1 998.6 L244.7 990.0 L247.0 982.2 L250.2 975.2 L257.2 968.1 L266.6 962.7 L279.0 955.6 L291.6 950.2 L304.0 946.3 Z" fill="#fff"/>
<polygon points="352.30,896.40 360.20,896.90 311.70,947.20 303.10,946.40" fill="#ebebed" stroke="#3a3a3c" stroke-width="0.5"/>
<path d="M303.00 947.00 C307.50 942.33 321.75 927.67 330.00 919.00 C338.25 910.33 346.67 901.08 352.50 895.00 C358.33 888.92 360.83 886.45 365.00 882.50 C369.17 878.55 373.33 874.22 377.50 871.30 C381.67 868.38 385.42 866.67 390.00 865.00 C394.58 863.33 396.67 862.33 405.00 861.30 C413.33 860.27 424.17 859.63 440.00 858.80 C455.83 857.97 478.33 856.90 500.00 856.30 C521.67 855.70 546.67 855.50 570.00 855.20 C593.33 854.90 628.33 854.62 640.00 854.50" fill="none" stroke="#3a3a3c" stroke-width="0.9" stroke-linecap="round" stroke-linejoin="round"/>
<path d="M382.50 861.30 L363.80 881.30" fill="none" stroke="#3a3a3c" stroke-width="0.4" stroke-linecap="round" stroke-linejoin="round"/>
<path d="M368.00 890.00 C370.42 888.13 377.58 881.72 382.50 878.80 C387.42 875.88 392.08 874.00 397.50 872.50 C402.92 871.00 397.92 870.72 415.00 869.80 C432.08 868.88 463.67 867.47 500.00 867.00 C536.33 866.53 610.83 867.00 633.00 867.00" fill="none" stroke="#3a3a3c" stroke-width="0.5" stroke-linecap="round" stroke-linejoin="round"/>
<path d="M370.00 892.00 C372.33 890.25 379.17 884.28 384.00 881.50 C388.83 878.72 393.67 876.78 399.00 875.30 C404.33 873.82 399.17 873.50 416.00 872.60 C432.83 871.70 463.83 870.35 500.00 869.90 C536.17 869.45 610.83 869.90 633.00 869.90" fill="none" stroke="#3a3a3c" stroke-width="0.5" stroke-linecap="round" stroke-linejoin="round"/>
<path d="M633.00 867.00 C633.25 867.23 634.50 867.92 634.50 868.40 C634.50 868.88 633.25 869.65 633.00 869.90" fill="none" stroke="#3a3a3c" stroke-width="0.5" stroke-linecap="round" stroke-linejoin="round"/>
<path d="M320.00 955.00 C323.33 950.00 333.53 933.95 340.00 925.00 C346.47 916.05 353.80 906.30 358.80 901.30 C363.80 896.30 364.80 896.67 370.00 895.00 C375.20 893.33 383.17 892.03 390.00 891.30 C396.83 890.57 399.33 891.07 411.00 890.60 C422.67 890.13 441.00 889.22 460.00 888.50 C479.00 887.78 514.17 886.67 525.00 886.30" fill="none" stroke="#3a3a3c" stroke-width="0.5" stroke-linecap="round" stroke-linejoin="round"/>
<path d="M410.60 890.80 L410.50 971.00 L407.00 976.00 L406.20 994.00 L405.00 1012.00" fill="none" stroke="#3a3a3c" stroke-width="0.5" stroke-linecap="round" stroke-linejoin="round"/>
<path d="M414.30 890.80 L414.70 961.00 L416.00 994.00 L416.60 1010.00" fill="none" stroke="#3a3a3c" stroke-width="0.5" stroke-linecap="round" stroke-linejoin="round"/>
<path d="M525.00 856.30 L525.30 995.00" fill="none" stroke="#3a3a3c" stroke-width="0.5" stroke-linecap="round" stroke-linejoin="round"/>
<path d="M425.50 894.50 L422.80 896.30 L421.70 899.50 L428.20 945.00 L430.50 949.60 L435.00 951.20 L525.00 944.60" fill="none" stroke="#3a3a3c" stroke-width="0.5" stroke-linecap="round" stroke-linejoin="round"/>
<path d="M425.50 894.50 L525.00 889.00" fill="none" stroke="#3a3a3c" stroke-width="0.5" stroke-linecap="round" stroke-linejoin="round"/>
<path d="M345.00 979.00 C353.33 977.93 380.00 974.52 395.00 972.60 C410.00 970.68 413.33 969.27 435.00 967.50 C456.67 965.73 510.00 962.92 525.00 962.00" fill="none" stroke="#c8c8cc" stroke-width="0.4" stroke-linecap="round" stroke-linejoin="round"/>
<path d="M360.00 981.00 C365.83 980.23 382.50 977.80 395.00 976.40 C407.50 975.00 413.33 974.17 435.00 972.60 C456.67 971.03 510.00 967.93 525.00 967.00" fill="none" stroke="#d4d4d8" stroke-width="0.4" stroke-linecap="round" stroke-linejoin="round"/>
<path d="M316.0 958.5 L345.0 924.0 L362.0 906.0 L375.0 899.5 L392.0 896.5 L402.0 896.3 L405.5 898.5 L406.0 903.0 L403.5 940.0 L401.0 944.5 L396.0 946.5 L325.0 959.5 Z" fill="#8e8e92" stroke="#3a3a3c" stroke-width="0.5" stroke-linejoin="round"/>
<path d="M321.0 957.0 L347.5 926.0 L364.0 908.5 L376.0 902.0 L392.0 899.0 L400.5 898.8 L403.0 900.5 L403.3 904.0 L401.0 939.0 L399.0 942.5 L395.0 944.0 L325.0 957.3 Z" fill="#e6e6e9"/>
<polygon points="362.50,908.00 366.80,905.50 362.80,949.50 358.60,950.30" fill="#a9a9ad" stroke="#3a3a3c" stroke-width="0.4"/>
<rect x="334.6" y="927.5" width="7" height="26.5" rx="1" fill="#b2b2b6" stroke="#3a3a3c" stroke-width="0.5"/>
<path d="M331.30 932.00 L331.80 975.00" fill="none" stroke="#3a3a3c" stroke-width="0.5" stroke-linecap="round" stroke-linejoin="round"/>
<rect x="388" y="959.3" width="13" height="3.6" rx="1.8" fill="#fff" stroke="#3a3a3c" stroke-width="0.5"/>
<path d="M386.00 961.50 L404.00 961.50" fill="none" stroke="#3a3a3c" stroke-width="0.4" stroke-linecap="round" stroke-linejoin="round"/>
<path d="M304.00 946.30 C301.93 946.95 295.77 948.65 291.60 950.20 C287.43 951.75 283.17 953.52 279.00 955.60 C274.83 957.68 270.23 960.62 266.60 962.70 C262.97 964.78 259.93 966.02 257.20 968.10 C254.47 970.18 251.90 972.85 250.20 975.20 C248.50 977.55 247.92 979.73 247.00 982.20 C246.08 984.67 245.35 987.27 244.70 990.00 C244.05 992.73 243.37 997.17 243.10 998.60" fill="none" stroke="#3a3a3c" stroke-width="0.9" stroke-linecap="round" stroke-linejoin="round"/>
<path d="M305.00 948.80 C302.92 949.43 296.67 951.07 292.50 952.60 C288.33 954.13 284.08 955.97 280.00 958.00 C275.92 960.03 271.33 962.80 268.00 964.80 C264.67 966.80 261.33 969.13 260.00 970.00" fill="none" stroke="#3a3a3c" stroke-width="0.5" stroke-linecap="round" stroke-linejoin="round"/>
<path d="M286.00 955.20 L299.40 951.30" fill="none" stroke="#3a3a3c" stroke-width="0.5" stroke-linecap="round" stroke-linejoin="round"/>
<path d="M287.00 956.80 L300.40 952.90" fill="none" stroke="#3a3a3c" stroke-width="0.5" stroke-linecap="round" stroke-linejoin="round"/>
<path d="M286.00 955.20 L287.00 956.80" fill="none" stroke="#3a3a3c" stroke-width="0.5" stroke-linecap="round" stroke-linejoin="round"/>
<path d="M299.40 951.30 L300.40 952.90" fill="none" stroke="#3a3a3c" stroke-width="0.5" stroke-linecap="round" stroke-linejoin="round"/>
<path d="M305.00 966.00 C309.17 965.25 312.33 964.33 330.00 961.50 C347.67 958.67 397.50 951.08 411.00 949.00" fill="none" stroke="#3a3a3c" stroke-width="0.4" stroke-linecap="round" stroke-linejoin="round"/>
<path d="M303.00 985.00 C305.50 984.08 312.67 980.67 318.00 979.50 C323.33 978.33 328.00 977.75 335.00 978.00 C342.00 978.25 355.83 980.50 360.00 981.00" fill="none" stroke="#3a3a3c" stroke-width="0.4" stroke-linecap="round" stroke-linejoin="round"/>
<polygon points="328.00,996.00 400.00,993.60 480.00,992.80 527.00,992.30 527.00,990.40 575.00,990.00 575.00,1010.00 328.00,1010.50" fill="#515153"/>
<polygon points="570.00,990.00 640.00,988.40 640.00,1004.20 611.00,1005.80 570.00,1008.00" fill="#515153"/>
<path d="M610.50 1006.80 L616.70 1021.40" fill="none" stroke="#3a3a3c" stroke-width="0.5" stroke-linecap="round" stroke-linejoin="round"/>
<path d="M614.00 1006.30 L618.80 1020.70" fill="none" stroke="#3a3a3c" stroke-width="0.5" stroke-linecap="round" stroke-linejoin="round"/>
<path d="M614.60 1022.00 L640.00 1018.60" fill="none" stroke="#3a3a3c" stroke-width="0.5" stroke-linecap="round" stroke-linejoin="round"/>
<polygon points="358.28,996.34 364.06,999.00 359.06,1011.50 346.56,1015.41" fill="#c07a4a" stroke="#c07a4a" stroke-width="0.4" stroke-linejoin="round"/>
<polygon points="346.56,1015.41 359.06,1011.50 361.41,1024.00 345.78,1024.00" fill="#e0907a" stroke="#e0907a" stroke-width="0.4" stroke-linejoin="round"/>
<polygon points="359.06,1011.50 364.06,1019.31 361.41,1024.00" fill="#6a5a5a" stroke="#6a5a5a" stroke-width="0.4" stroke-linejoin="round"/>
<polygon points="358.28,996.34 373.12,1002.91 364.06,999.00" fill="#c8c8cc" stroke="#c8c8cc" stroke-width="0.4" stroke-linejoin="round"/>
<polygon points="364.06,999.00 373.12,1002.91 366.88,1013.06 359.06,1011.50" fill="#b0a8b0" stroke="#b0a8b0" stroke-width="0.4" stroke-linejoin="round"/>
<polygon points="366.88,1013.06 373.12,1002.91 379.38,1014.62 371.56,1020.88 364.06,1019.31 359.06,1011.50" fill="#e8e0d0" stroke="#e8e0d0" stroke-width="0.4" stroke-linejoin="round"/>
<polygon points="373.12,1002.91 387.97,994.31 388.75,1013.06 379.38,1014.62" fill="#b8c0e0" stroke="#b8c0e0" stroke-width="0.4" stroke-linejoin="round"/>
<polygon points="388.75,1013.06 398.12,1015.41 393.44,1024.00 382.50,1024.00 379.38,1014.62" fill="#fff0b0" stroke="#fff0b0" stroke-width="0.4" stroke-linejoin="round"/>
<polygon points="364.06,1019.31 371.56,1020.88 379.38,1014.62 382.50,1024.00 361.41,1024.00" fill="#f4eee6" stroke="#f4eee6" stroke-width="0.4" stroke-linejoin="round"/>
<polygon points="398.12,1015.41 405.16,1019.31 401.25,1024.00 393.44,1024.00" fill="#c8d0e8" stroke="#c8d0e8" stroke-width="0.4" stroke-linejoin="round"/>
<polygon points="405.16,1016.97 420.00,1007.59 423.12,1017.75 413.75,1020.88" fill="#9a7070" stroke="#9a7070" stroke-width="0.4" stroke-linejoin="round"/>
<polygon points="401.25,1024.00 405.16,1019.31 413.75,1020.88 423.12,1017.75 423.12,1024.00" fill="#ffe9a0" stroke="#ffe9a0" stroke-width="0.4" stroke-linejoin="round"/>
<polygon points="441.41,991.97 432.03,1003.69 448.44,1014.94 445.31,1003.69" fill="#f5c060" stroke="#f5c060" stroke-width="0.4" stroke-linejoin="round"/>
<polygon points="441.41,991.97 448.75,993.22 448.75,1014.94 445.31,1003.69" fill="#f5a623" stroke="#f5a623" stroke-width="0.4" stroke-linejoin="round"/>
<polygon points="403.91,1016.97 430.47,1003.69 420.31,1016.19 412.50,1022.44" fill="#9a7a78" stroke="#9a7a78" stroke-width="0.4" stroke-linejoin="round"/>
<polygon points="430.47,1003.69 432.03,1003.69 437.50,1020.88 420.31,1016.19" fill="#b0a5a5" stroke="#b0a5a5" stroke-width="0.4" stroke-linejoin="round"/>
<polygon points="432.03,1003.69 448.44,1014.94 451.56,1020.88 437.50,1020.88" fill="#d8d8dc" stroke="#d8d8dc" stroke-width="0.4" stroke-linejoin="round"/>
<polygon points="448.44,1014.94 464.84,1003.69 462.50,1020.88 451.56,1020.88" fill="#d0d0d5" stroke="#d0d0d5" stroke-width="0.4" stroke-linejoin="round"/>
<polygon points="464.84,1003.69 475.00,1019.31 462.50,1020.88" fill="#a89a98" stroke="#a89a98" stroke-width="0.4" stroke-linejoin="round"/>
<polygon points="464.84,1003.69 493.75,1016.97 484.38,1022.44 475.00,1019.31" fill="#9a7578" stroke="#9a7578" stroke-width="0.4" stroke-linejoin="round"/>
<polygon points="400.00,1019.31 403.91,1016.97 412.50,1022.44 409.38,1024.00 400.00,1024.00" fill="#ffe9a0" stroke="#ffe9a0" stroke-width="0.4" stroke-linejoin="round"/>
<polygon points="412.50,1022.44 420.31,1016.19 437.50,1020.88 451.56,1020.88 462.50,1020.88 475.00,1019.31 484.38,1022.44 481.25,1024.00 409.38,1024.00" fill="#f1efee" stroke="#f1efee" stroke-width="0.4" stroke-linejoin="round"/>
<polygon points="475.00,1019.31 484.38,1022.44 478.12,1024.00 471.88,1024.00" fill="#fff0b0" stroke="#fff0b0" stroke-width="0.4" stroke-linejoin="round"/>
<polygon points="484.38,1022.44 493.75,1016.97 500.00,1020.88 500.00,1024.00 481.25,1024.00" fill="#ffe9a0" stroke="#ffe9a0" stroke-width="0.4" stroke-linejoin="round"/>
<polygon points="510.00,994.00 520.00,1001.50 511.25,1011.50 505.00,1006.50" fill="#c8cce8" stroke="#c8cce8" stroke-width="0.4" stroke-linejoin="round"/>
<polygon points="520.00,1001.50 533.75,1006.50 525.00,1017.75 511.25,1011.50" fill="#f0e8d8" stroke="#f0e8d8" stroke-width="0.4" stroke-linejoin="round"/>
<polygon points="520.00,1001.50 537.50,996.50 533.75,1006.50" fill="#a89aa0" stroke="#a89aa0" stroke-width="0.4" stroke-linejoin="round"/>
<polygon points="537.50,996.50 543.75,1014.00 533.75,1006.50" fill="#8a6a60" stroke="#8a6a60" stroke-width="0.4" stroke-linejoin="round"/>
<polygon points="537.50,996.50 548.75,1011.50 545.50,1024.00 540.00,1024.00 543.75,1014.00" fill="#f0a030" stroke="#f0a030" stroke-width="0.4" stroke-linejoin="round"/>
<polygon points="533.75,1006.50 543.75,1014.00 540.00,1024.00 530.00,1024.00 525.00,1017.75" fill="#e0907a" stroke="#e0907a" stroke-width="0.4" stroke-linejoin="round"/>
<polygon points="485.00,1017.75 495.00,1014.00 511.25,1011.50 525.00,1017.75 530.00,1024.00 485.00,1024.00" fill="#ece8e4" stroke="#ece8e4" stroke-width="0.4" stroke-linejoin="round"/>
<polygon points="495.00,1014.00 505.00,1006.50 511.25,1011.50" fill="#d8d8e0" stroke="#d8d8e0" stroke-width="0.4" stroke-linejoin="round"/>
<polygon points="540.00,998.06 549.38,1010.56 540.00,1015.25" fill="#c88040" stroke="#c88040" stroke-width="0.4" stroke-linejoin="round"/>
<polygon points="540.00,1015.25 549.38,1010.56 547.81,1024.00 540.00,1024.00" fill="#e0a090" stroke="#e0a090" stroke-width="0.4" stroke-linejoin="round"/>
<path d="M554.42 1000.10 A34.7 34.7 0 0 1 611.64 1006.11" fill="none" stroke="#3a3a3c" stroke-width="0.45"/>
<circle cx="581" cy="1022.4" r="32.5" fill="#626264"/>
<circle cx="581" cy="1022.4" r="26.7" fill="#323234"/>
<circle cx="581" cy="1023.8" r="16.4" fill="#747476" stroke="#dcdcde" stroke-width="1.5"/>
<path d="M581.60 1021.41 L584.57 1009.48" stroke="#e2e2e4" stroke-width="5.25" stroke-linecap="round"/>
<path d="M583.24 1022.78 L594.42 1017.66" stroke="#e2e2e4" stroke-width="5.25" stroke-linecap="round"/>
<path d="M583.19 1024.91 L594.17 1030.47" stroke="#e2e2e4" stroke-width="5.25" stroke-linecap="round"/>
<path d="M581.50 1026.21 L584.00 1038.25" stroke="#e2e2e4" stroke-width="5.25" stroke-linecap="round"/>
<path d="M579.43 1025.69 L571.57 1035.15" stroke="#e2e2e4" stroke-width="5.25" stroke-linecap="round"/>
<path d="M578.54 1023.75 L566.24 1023.51" stroke="#e2e2e4" stroke-width="5.25" stroke-linecap="round"/>
<path d="M579.50 1021.85 L572.03 1012.08" stroke="#e2e2e4" stroke-width="5.25" stroke-linecap="round"/>
<circle cx="581" cy="1023.8" r="4.92" fill="#dcdcde"/>
<circle cx="581" cy="1023.8" r="1.64" fill="#8a8a8c"/>
<path d="M289.03 1003.11 A33.9 33.9 0 0 1 344.93 1008.98" fill="none" stroke="#3a3a3c" stroke-width="0.45"/>
<circle cx="315" cy="1024.9" r="31.7" fill="#626264"/>
<circle cx="315" cy="1024.9" r="26.8" fill="#323234"/>
<circle cx="315" cy="1024.6" r="17" fill="#747476" stroke="#dcdcde" stroke-width="1.5"/>
<path d="M315.62 1022.13 L318.70 1009.75" stroke="#e2e2e4" stroke-width="5.44" stroke-linecap="round"/>
<path d="M317.32 1023.54 L328.91 1018.24" stroke="#e2e2e4" stroke-width="5.44" stroke-linecap="round"/>
<path d="M317.27 1025.75 L328.65 1031.51" stroke="#e2e2e4" stroke-width="5.44" stroke-linecap="round"/>
<path d="M315.52 1027.10 L318.11 1039.58" stroke="#e2e2e4" stroke-width="5.44" stroke-linecap="round"/>
<path d="M313.37 1026.56 L305.22 1036.37" stroke="#e2e2e4" stroke-width="5.44" stroke-linecap="round"/>
<path d="M312.45 1024.55 L299.70 1024.29" stroke="#e2e2e4" stroke-width="5.44" stroke-linecap="round"/>
<path d="M313.45 1022.58 L305.70 1012.45" stroke="#e2e2e4" stroke-width="5.44" stroke-linecap="round"/>
<circle cx="315" cy="1024.6" r="5.10" fill="#dcdcde"/>
<circle cx="315" cy="1024.6" r="1.70" fill="#8a8a8c"/>
<path d="M241.5 1000.0 L243.0 998.6 L265.0 998.0 L292.0 997.6 L288.0 1004.0 L285.0 1012.0 L284.3 1024.0 L243.5 1024.0 L241.5 1015.0 Z" fill="#3d3d3f"/>
<path d="M249.00 1013.00 C251.17 1012.92 256.50 1012.83 262.00 1012.50 C267.50 1012.17 278.67 1011.25 282.00 1011.00" fill="none" stroke="#6a6a6c" stroke-width="0.5" stroke-linecap="round" stroke-linejoin="round"/>
<ellipse cx="248" cy="1009" rx="5" ry="6.5" fill="none" stroke="#58585a" stroke-width="0.5"/>
<polygon points="250.08,975.30 263.27,965.15 265.30,967.18 260.23,975.30 256.17,992.56 254.14,995.61 251.09,985.46" fill="#d99a3a" stroke="#d99a3a" stroke-width="0.4" stroke-linejoin="round"/>
<polygon points="255.15,992.56 263.27,991.55 264.29,998.15 254.64,998.15" fill="#f09a28" stroke="#f09a28" stroke-width="0.4" stroke-linejoin="round"/>
<polygon points="266.83,972.26 268.86,970.23 275.46,985.46 265.30,995.61 263.27,990.53" fill="#f09a28" stroke="#f09a28" stroke-width="0.4" stroke-linejoin="round"/>
<polygon points="268.86,970.23 275.96,982.41 275.46,985.46" fill="#7a4a45" stroke="#7a4a45" stroke-width="0.4" stroke-linejoin="round"/>
<polygon points="265.30,995.61 275.46,985.46 278.50,998.15 264.80,998.15" fill="#8f7062" stroke="#8f7062" stroke-width="0.4" stroke-linejoin="round"/>
<polygon points="275.46,985.46 285.61,991.55 297.79,995.10 293.73,998.15 278.50,998.15" fill="#7a6468" stroke="#7a6468" stroke-width="0.4" stroke-linejoin="round"/>
<polygon points="287.13,965.66 292.72,961.90 298.30,965.96 294.95,973.48" fill="#e2e2e6" stroke="#e2e2e6" stroke-width="0.4" stroke-linejoin="round"/>
<polygon points="289.67,967.69 298.30,965.96 295.25,973.48" fill="#f8d080" stroke="#f8d080" stroke-width="0.4" stroke-linejoin="round"/>
<polygon points="298.30,965.96 304.90,968.20 295.56,972.46" fill="#f0a58c" stroke="#f0a58c" stroke-width="0.4" stroke-linejoin="round"/>
<polygon points="278.50,976.83 287.13,965.66 294.95,973.78" fill="#c8c4c0" stroke="#c8c4c0" stroke-width="0.4" stroke-linejoin="round"/>
<polygon points="275.96,982.41 278.50,976.83 294.95,973.78 285.61,979.37" fill="#fbc997" stroke="#fbc997" stroke-width="0.4" stroke-linejoin="round"/>
<polygon points="275.96,982.41 285.61,979.37 294.95,974.09 285.61,991.55 275.46,985.46" fill="#fbc24e" stroke="#fbc24e" stroke-width="0.4" stroke-linejoin="round"/>
<polygon points="294.95,974.09 297.79,995.10 285.61,991.55" fill="#f9b16a" stroke="#f9b16a" stroke-width="0.4" stroke-linejoin="round"/>
<polygon points="294.95,974.09 303.88,985.46 300.33,995.61 297.79,995.10" fill="#deb2a2" stroke="#deb2a2" stroke-width="0.4" stroke-linejoin="round"/>
<polygon points="303.88,985.46 302.87,992.56 300.33,995.61" fill="#fff4b4" stroke="#fff4b4" stroke-width="0.4" stroke-linejoin="round"/>
<polygon points="260.23,990.53 262.77,975.30 266.83,967.39 268.86,968.40 265.30,976.32 262.77,991.04" fill="#e4e4e8" stroke="#3a3a3c" stroke-width="0.4"/>
<path d="M263.27 965.15 C263.87 965.36 265.81 965.78 266.83 966.37 C267.84 966.96 269.53 966.96 269.37 968.71 C269.20 970.45 266.79 973.05 265.81 976.83 C264.83 980.60 263.87 988.93 263.48 991.35" fill="none" stroke="#3a3a3c" stroke-width="0.6" stroke-linecap="round" stroke-linejoin="round"/>
<path d="M259.21 968.71 C258.71 970.65 256.76 976.37 256.17 980.38 C255.58 984.39 255.74 990.70 255.66 992.77" fill="none" stroke="#3a3a3c" stroke-width="0.5" stroke-linecap="round" stroke-linejoin="round"/>
<path d="M255.15 992.56 L263.27 991.55 L264.29 998.15" fill="none" stroke="#3a3a3c" stroke-width="0.4" stroke-linecap="round" stroke-linejoin="round"/>
<polygon points="247.03,979.84 249.38,977.50 248.12,991.56 245.94,992.81" fill="#c9c9cd" stroke="#3a3a3c" stroke-width="0.4"/>
<g id="owl"><clipPath id="owlclip"><rect x="520" y="860" width="120" height="164"/></clipPath><g clip-path="url(#owlclip)">
<polygon points="524.38,873.75 531.88,868.50 552.50,876.50 564.38,890.00 600.75,890.00 600.75,990.00 593.75,992.50 588.12,990.00 578.75,990.00 566.25,991.88 562.50,983.75 554.38,991.25 548.75,977.50 528.12,983.12 531.88,971.25 527.50,951.25 527.50,942.50 538.75,911.88 540.00,911.25 546.88,901.25 545.00,893.12 541.25,891.88 529.38,878.12" fill="#d8b8a0"/>
<polygon points="524.38,873.75 531.88,868.50 536.88,876.88 529.38,878.12" fill="#8a6a5a" stroke="#8a6a5a" stroke-width="0.35" stroke-linejoin="round"/>
<polygon points="531.88,868.50 552.50,876.50 546.88,881.88" fill="#f8b848" stroke="#f8b848" stroke-width="0.35" stroke-linejoin="round"/>
<polygon points="552.50,876.50 564.38,890.00 555.00,894.38 546.88,881.88" fill="#f0a028" stroke="#f0a028" stroke-width="0.35" stroke-linejoin="round"/>
<polygon points="531.88,868.50 546.88,881.88 555.00,894.38 545.00,893.12 541.25,891.88 536.88,876.88" fill="#4a3030" stroke="#4a3030" stroke-width="0.35" stroke-linejoin="round"/>
<polygon points="529.38,878.12 536.88,876.88 541.25,891.88" fill="#7a6060" stroke="#7a6060" stroke-width="0.35" stroke-linejoin="round"/>
<polygon points="564.38,890.00 567.38,890.00 578.00,896.12 555.25,895.75 555.00,894.38" fill="#f5b050" stroke="#f5b050" stroke-width="0.35" stroke-linejoin="round"/>
<polygon points="545.00,893.12 555.00,894.38 555.25,895.75 546.88,901.25" fill="#6a4444" stroke="#6a4444" stroke-width="0.35" stroke-linejoin="round"/>
<polygon points="546.88,901.25 555.25,895.75 561.75,909.50 551.25,906.88 540.00,911.25" fill="#4a3030" stroke="#4a3030" stroke-width="0.35" stroke-linejoin="round"/>
<polygon points="567.38,890.00 584.12,891.00 578.75,896.50 578.00,896.12" fill="#3a3f68" stroke="#3a3f68" stroke-width="0.35" stroke-linejoin="round"/>
<polygon points="584.12,891.00 599.00,902.50 580.00,896.50 578.75,896.50" fill="#7a5c52" stroke="#7a5c52" stroke-width="0.35" stroke-linejoin="round"/>
<polygon points="584.12,891.00 586.12,890.88 600.75,896.50 600.75,903.12 599.00,902.50" fill="#5f6460" stroke="#5f6460" stroke-width="0.35" stroke-linejoin="round"/>
<polygon points="586.12,890.88 600.75,890.88 600.75,896.50" fill="#6a4040" stroke="#6a4040" stroke-width="0.35" stroke-linejoin="round"/>
<polygon points="555.25,895.75 578.00,896.12 571.50,907.50" fill="#50689a" stroke="#50689a" stroke-width="0.35" stroke-linejoin="round"/>
<polygon points="555.25,895.75 571.50,907.50 561.75,909.50" fill="#3a5058" stroke="#3a5058" stroke-width="0.35" stroke-linejoin="round"/>
<polygon points="578.00,896.12 578.75,896.50 584.50,910.38 571.50,907.75" fill="#8a6a50" stroke="#8a6a50" stroke-width="0.35" stroke-linejoin="round"/>
<polygon points="578.75,896.50 580.00,896.50 599.88,903.50 586.12,910.38 584.50,910.38" fill="#3a3a60" stroke="#3a3a60" stroke-width="0.35" stroke-linejoin="round"/>
<polygon points="586.12,910.38 599.88,903.50 594.62,920.12" fill="#857070" stroke="#857070" stroke-width="0.35" stroke-linejoin="round"/>
<polygon points="599.88,903.50 600.75,903.50 600.75,921.25 594.62,920.12" fill="#f09040" stroke="#f09040" stroke-width="0.35" stroke-linejoin="round"/>
<polygon points="571.50,907.88 584.50,910.75 578.00,918.12" fill="#f0a088" stroke="#f0a088" stroke-width="0.35" stroke-linejoin="round"/>
<polygon points="584.50,910.75 586.12,910.38 594.62,920.12 578.00,918.50" fill="#f5c870" stroke="#f5c870" stroke-width="0.35" stroke-linejoin="round"/>
<polygon points="578.00,918.50 594.62,920.12 593.38,924.12 586.12,926.00" fill="#fff0a8" stroke="#fff0a8" stroke-width="0.35" stroke-linejoin="round"/>
<polygon points="561.75,909.50 571.50,907.75 578.00,918.12 576.38,917.62 571.50,915.25" fill="#5a5a58" stroke="#5a5a58" stroke-width="0.35" stroke-linejoin="round"/>
<polygon points="562.50,912.75 571.50,915.62 568.25,917.25" fill="#8a8040" stroke="#8a8040" stroke-width="0.35" stroke-linejoin="round"/>
<polygon points="551.25,906.88 561.75,909.50 562.50,912.75 550.00,910.00" fill="#f8d890" stroke="#f8d890" stroke-width="0.35" stroke-linejoin="round"/>
<polygon points="538.75,911.88 540.00,911.25 551.25,906.88 550.00,910.00 545.00,920.00 540.00,923.75" fill="#f09040" stroke="#f09040" stroke-width="0.35" stroke-linejoin="round"/>
<polygon points="550.00,910.00 557.50,920.00 545.00,926.25 545.00,920.00" fill="#c8a0a0" stroke="#c8a0a0" stroke-width="0.35" stroke-linejoin="round"/>
<polygon points="550.00,910.00 562.50,912.75 557.50,920.00" fill="#e8a090" stroke="#e8a090" stroke-width="0.35" stroke-linejoin="round"/>
<polygon points="562.50,912.75 568.25,917.25 560.00,927.50 557.50,920.00" fill="#8a6a58" stroke="#8a6a58" stroke-width="0.35" stroke-linejoin="round"/>
<polygon points="540.00,923.75 545.00,920.00 545.00,926.25" fill="#8a8050" stroke="#8a8050" stroke-width="0.35" stroke-linejoin="round"/>
<polygon points="545.00,926.25 557.50,920.00 560.00,927.50 551.25,930.00" fill="#c0b0b8" stroke="#c0b0b8" stroke-width="0.35" stroke-linejoin="round"/>
<polygon points="543.12,935.00 551.25,930.00 560.00,927.50 561.25,937.50 552.50,940.00" fill="#c8d0e8" stroke="#c8d0e8" stroke-width="0.35" stroke-linejoin="round"/>
<polygon points="538.75,911.88 540.00,923.75 532.50,936.25 527.50,942.50" fill="#c88850" stroke="#c88850" stroke-width="0.35" stroke-linejoin="round"/>
<polygon points="540.00,923.75 545.00,926.25 543.12,935.00 532.50,945.00 527.50,942.50 532.50,936.25" fill="#e8b090" stroke="#e8b090" stroke-width="0.35" stroke-linejoin="round"/>
<polygon points="545.00,926.25 551.25,930.00 543.12,935.00" fill="#b8b0a8" stroke="#b8b0a8" stroke-width="0.35" stroke-linejoin="round"/>
<polygon points="543.12,935.00 552.50,940.00 546.88,946.25 543.75,937.50" fill="#d8c8b0" stroke="#d8c8b0" stroke-width="0.35" stroke-linejoin="round"/>
<polygon points="552.50,940.00 561.25,937.50 570.00,942.50 563.75,945.00 557.50,938.75" fill="#e0e6f4" stroke="#e0e6f4" stroke-width="0.35" stroke-linejoin="round"/>
<polygon points="595.00,925.00 594.62,920.12 600.75,921.25 600.75,936.88" fill="#f5b040" stroke="#f5b040" stroke-width="0.35" stroke-linejoin="round"/>
<polygon points="590.00,927.50 593.38,924.12 595.00,925.00 600.75,936.88 593.75,941.25" fill="#f0c080" stroke="#f0c080" stroke-width="0.35" stroke-linejoin="round"/>
<polygon points="583.75,927.50 586.12,926.00 593.38,924.12 590.00,927.50" fill="#fff0b8" stroke="#fff0b8" stroke-width="0.35" stroke-linejoin="round"/>
<polygon points="581.88,933.75 583.75,927.50 590.00,927.50 593.75,941.25 591.88,943.75 581.88,941.88" fill="#b8b0b0" stroke="#b8b0b0" stroke-width="0.35" stroke-linejoin="round"/>
<polygon points="593.75,941.25 600.75,936.88 600.75,943.75 591.88,943.75" fill="#d8d8e0" stroke="#d8d8e0" stroke-width="0.35" stroke-linejoin="round"/>
<polygon points="570.00,942.50 576.25,935.00 581.88,933.75 581.88,941.88 576.25,945.00 563.75,945.00" fill="#fff0c8" stroke="#fff0c8" stroke-width="0.35" stroke-linejoin="round"/>
<polygon points="560.00,927.50 568.25,917.25 576.38,917.62 583.75,927.50 581.88,933.75 576.25,935.00 570.00,942.50 561.25,937.50" fill="#e6e0dc" stroke="#e6e0dc" stroke-width="0.35" stroke-linejoin="round"/>
<polygon points="581.88,941.88 591.88,943.75 590.00,951.88 585.00,948.75" fill="#c8d0f0" stroke="#c8d0f0" stroke-width="0.35" stroke-linejoin="round"/>
<polygon points="591.88,943.75 596.88,951.88 600.75,966.25 590.00,953.12 590.00,951.88" fill="#d0d0d8" stroke="#d0d0d8" stroke-width="0.35" stroke-linejoin="round"/>
<polygon points="591.88,943.75 600.75,943.75 596.88,951.88" fill="#9a7878" stroke="#9a7878" stroke-width="0.35" stroke-linejoin="round"/>
<polygon points="600.75,943.75 600.75,951.88 596.88,951.88" fill="#5070a8" stroke="#5070a8" stroke-width="0.35" stroke-linejoin="round"/>
<polygon points="596.88,951.88 600.75,951.88 600.75,966.25" fill="#3a3f68" stroke="#3a3f68" stroke-width="0.35" stroke-linejoin="round"/>
<polygon points="573.12,948.75 581.88,942.50 582.50,945.62" fill="#f0a088" stroke="#f0a088" stroke-width="0.35" stroke-linejoin="round"/>
<polygon points="573.12,948.75 582.50,945.62 585.00,948.75 572.50,950.00" fill="#b8b0b8" stroke="#b8b0b8" stroke-width="0.35" stroke-linejoin="round"/>
<polygon points="572.50,950.00 585.00,948.75 590.00,953.12 585.00,956.25 581.88,962.50" fill="#f8d8a8" stroke="#f8d8a8" stroke-width="0.35" stroke-linejoin="round"/>
<polygon points="581.88,962.50 585.00,956.25 590.00,953.12 600.75,966.25 597.50,967.50" fill="#f8c8a0" stroke="#f8c8a0" stroke-width="0.35" stroke-linejoin="round"/>
<polygon points="527.50,942.50 540.00,936.25 540.62,942.50 527.50,951.25" fill="#c08048" stroke="#c08048" stroke-width="0.35" stroke-linejoin="round"/>
<polygon points="529.38,937.50 538.75,935.00 540.00,936.25 527.50,942.50" fill="#e0a898" stroke="#e0a898" stroke-width="0.35" stroke-linejoin="round"/>
<polygon points="527.50,951.25 540.62,942.50 535.00,963.75 531.88,971.25" fill="#c89a48" stroke="#c89a48" stroke-width="0.35" stroke-linejoin="round"/>
<polygon points="540.62,942.50 552.50,961.88 528.12,983.12 535.00,963.75" fill="#f0a028" stroke="#f0a028" stroke-width="0.35" stroke-linejoin="round"/>
<polygon points="552.50,961.88 555.00,976.25 548.75,977.50 528.12,983.12" fill="#8a6248" stroke="#8a6248" stroke-width="0.35" stroke-linejoin="round"/>
<polygon points="548.75,977.50 555.00,976.25 554.38,991.25" fill="#c8a040" stroke="#c8a040" stroke-width="0.35" stroke-linejoin="round"/>
<polygon points="555.00,976.25 562.50,983.75 554.38,991.25" fill="#8a8040" stroke="#8a8040" stroke-width="0.35" stroke-linejoin="round"/>
<polygon points="552.50,961.88 575.00,976.25 562.50,983.75 555.00,976.25" fill="#857070" stroke="#857070" stroke-width="0.35" stroke-linejoin="round"/>
<polygon points="562.50,983.75 575.00,976.25 573.75,985.00 566.25,991.88" fill="#b0a8a8" stroke="#b0a8a8" stroke-width="0.35" stroke-linejoin="round"/>
<polygon points="573.75,985.00 575.00,976.25 578.75,985.00 578.75,990.00 566.25,991.88" fill="#c8c8d0" stroke="#c8c8d0" stroke-width="0.35" stroke-linejoin="round"/>
<polygon points="540.62,942.50 540.00,936.25 543.75,937.50 546.88,946.25 553.75,958.75 552.50,961.88" fill="#6a4444" stroke="#6a4444" stroke-width="0.35" stroke-linejoin="round"/>
<polygon points="546.88,946.25 557.50,938.75 563.75,945.00 555.00,955.62 553.75,958.75" fill="#c0c8e0" stroke="#c0c8e0" stroke-width="0.35" stroke-linejoin="round"/>
<polygon points="543.75,937.50 546.88,933.75 557.50,938.75 546.88,946.25" fill="#d8c8b0" stroke="#d8c8b0" stroke-width="0.35" stroke-linejoin="round"/>
<polygon points="557.50,938.75 563.75,942.50 572.50,950.62 563.75,951.25 563.75,945.00" fill="#d0d0d8" stroke="#d0d0d8" stroke-width="0.35" stroke-linejoin="round"/>
<polygon points="555.00,955.62 563.75,945.00 563.75,951.25 572.50,950.62 553.12,961.88" fill="#f8c8a0" stroke="#f8c8a0" stroke-width="0.35" stroke-linejoin="round"/>
<polygon points="553.12,961.88 572.50,950.62 570.00,965.00 557.50,965.00" fill="#f8b840" stroke="#f8b840" stroke-width="0.35" stroke-linejoin="round"/>
<polygon points="572.50,950.62 575.00,976.25 557.50,965.00 570.00,965.00" fill="#f8b060" stroke="#f8b060" stroke-width="0.35" stroke-linejoin="round"/>
<polygon points="572.50,950.62 580.00,963.75 575.00,976.25" fill="#e0b0a0" stroke="#e0b0a0" stroke-width="0.35" stroke-linejoin="round"/>
<polygon points="580.00,963.75 581.25,972.50 578.75,985.00 575.00,976.25" fill="#fff0a8" stroke="#fff0a8" stroke-width="0.35" stroke-linejoin="round"/>
<polygon points="580.00,963.75 581.25,964.38 587.50,976.25 580.00,983.75 578.75,985.00 581.25,972.50" fill="#f09878" stroke="#f09878" stroke-width="0.35" stroke-linejoin="round"/>
<polygon points="581.25,964.38 593.75,966.25 587.50,976.25" fill="#f8a850" stroke="#f8a850" stroke-width="0.35" stroke-linejoin="round"/>
<polygon points="572.50,950.62 582.50,953.75 600.75,966.25 593.75,966.25 581.25,964.38 580.00,963.75" fill="#f8c8a0" stroke="#f8c8a0" stroke-width="0.35" stroke-linejoin="round"/>
<polygon points="572.50,950.62 578.75,942.50 585.00,951.25 582.50,953.75" fill="#f8c870" stroke="#f8c870" stroke-width="0.35" stroke-linejoin="round"/>
<polygon points="563.75,942.50 570.00,942.50 578.75,942.50 572.50,950.62" fill="#f8d8a0" stroke="#f8d8a0" stroke-width="0.35" stroke-linejoin="round"/>
<polygon points="570.00,942.50 582.50,937.50 590.00,945.00 585.00,951.25 578.75,942.50" fill="#b8b0b8" stroke="#b8b0b8" stroke-width="0.35" stroke-linejoin="round"/>
<polygon points="582.50,937.50 590.00,945.00 595.00,953.75 585.00,951.25" fill="#c8d0e8" stroke="#c8d0e8" stroke-width="0.35" stroke-linejoin="round"/>
<polygon points="585.00,951.25 595.00,953.75 600.75,966.25 582.50,953.75" fill="#d8d8e0" stroke="#d8d8e0" stroke-width="0.35" stroke-linejoin="round"/>
<polygon points="590.00,945.00 600.75,945.00 600.75,951.25 595.00,953.75" fill="#9a7878" stroke="#9a7878" stroke-width="0.35" stroke-linejoin="round"/>
<polygon points="593.75,966.25 600.75,966.25 600.75,977.50 593.75,976.25" fill="#f09040" stroke="#f09040" stroke-width="0.35" stroke-linejoin="round"/>
<polygon points="587.50,976.25 593.75,966.25 593.75,976.25 591.25,981.25" fill="#e8b0a0" stroke="#e8b0a0" stroke-width="0.35" stroke-linejoin="round"/>
<polygon points="580.00,983.75 587.50,976.25 591.25,981.25 588.12,990.00 578.75,990.00 578.75,985.00" fill="#a08080" stroke="#a08080" stroke-width="0.35" stroke-linejoin="round"/>
<polygon points="591.25,981.25 593.75,976.25 600.75,977.50 600.75,987.50 595.00,988.75" fill="#8a6a48" stroke="#8a6a48" stroke-width="0.35" stroke-linejoin="round"/>
<polygon points="591.25,981.25 595.00,988.75 593.75,992.50 588.12,990.00" fill="#7a7038" stroke="#7a7038" stroke-width="0.35" stroke-linejoin="round"/>
<polygon points="595.00,988.75 600.75,987.50 600.75,990.00 593.75,992.50" fill="#6a5a40" stroke="#6a5a40" stroke-width="0.35" stroke-linejoin="round"/>
<ellipse cx="573.12" cy="927.42" rx="14.2" ry="10.9" fill="#4a3030"/>
<circle cx="573.12" cy="926.52" r="10.2" fill="#f0a020"/>
<circle cx="573.12" cy="929.12" r="7.9" fill="#f8cc20"/>
<circle cx="573.42" cy="927.33" r="5.3" fill="#4a2e2e"/>
<polygon points="676.12,873.75 668.62,868.50 648.00,876.50 636.12,890.00 599.75,890.00 599.75,990.00 606.75,992.50 612.38,990.00 621.75,990.00 634.25,991.88 638.00,983.75 646.12,991.25 651.75,977.50 672.38,983.12 668.62,971.25 673.00,951.25 673.00,942.50 661.75,911.88 660.50,911.25 653.62,901.25 655.50,893.12 659.25,891.88 671.12,878.12" fill="#d8b8a0"/>
<polygon points="676.12,873.75 668.62,868.50 663.62,876.88 671.12,878.12" fill="#8a6a5a" stroke="#8a6a5a" stroke-width="0.35" stroke-linejoin="round"/>
<polygon points="668.62,868.50 648.00,876.50 653.62,881.88" fill="#f8b848" stroke="#f8b848" stroke-width="0.35" stroke-linejoin="round"/>
<polygon points="648.00,876.50 636.12,890.00 645.50,894.38 653.62,881.88" fill="#f0a028" stroke="#f0a028" stroke-width="0.35" stroke-linejoin="round"/>
<polygon points="668.62,868.50 653.62,881.88 645.50,894.38 655.50,893.12 659.25,891.88 663.62,876.88" fill="#4a3030" stroke="#4a3030" stroke-width="0.35" stroke-linejoin="round"/>
<polygon points="671.12,878.12 663.62,876.88 659.25,891.88" fill="#7a6060" stroke="#7a6060" stroke-width="0.35" stroke-linejoin="round"/>
<polygon points="636.12,890.00 633.12,890.00 622.50,896.12 645.25,895.75 645.50,894.38" fill="#f5b050" stroke="#f5b050" stroke-width="0.35" stroke-linejoin="round"/>
<polygon points="655.50,893.12 645.50,894.38 645.25,895.75 653.62,901.25" fill="#6a4444" stroke="#6a4444" stroke-width="0.35" stroke-linejoin="round"/>
<polygon points="653.62,901.25 645.25,895.75 638.75,909.50 649.25,906.88 660.50,911.25" fill="#4a3030" stroke="#4a3030" stroke-width="0.35" stroke-linejoin="round"/>
<polygon points="633.12,890.00 616.38,891.00 621.75,896.50 622.50,896.12" fill="#3a3f68" stroke="#3a3f68" stroke-width="0.35" stroke-linejoin="round"/>
<polygon points="616.38,891.00 601.50,902.50 620.50,896.50 621.75,896.50" fill="#7a5c52" stroke="#7a5c52" stroke-width="0.35" stroke-linejoin="round"/>
<polygon points="616.38,891.00 614.38,890.88 599.75,896.50 599.75,903.12 601.50,902.50" fill="#5f6460" stroke="#5f6460" stroke-width="0.35" stroke-linejoin="round"/>
<polygon points="614.38,890.88 599.75,890.88 599.75,896.50" fill="#6a4040" stroke="#6a4040" stroke-width="0.35" stroke-linejoin="round"/>
<polygon points="645.25,895.75 622.50,896.12 629.00,907.50" fill="#50689a" stroke="#50689a" stroke-width="0.35" stroke-linejoin="round"/>
<polygon points="645.25,895.75 629.00,907.50 638.75,909.50" fill="#3a5058" stroke="#3a5058" stroke-width="0.35" stroke-linejoin="round"/>
<polygon points="622.50,896.12 621.75,896.50 616.00,910.38 629.00,907.75" fill="#8a6a50" stroke="#8a6a50" stroke-width="0.35" stroke-linejoin="round"/>
<polygon points="621.75,896.50 620.50,896.50 600.62,903.50 614.38,910.38 616.00,910.38" fill="#3a3a60" stroke="#3a3a60" stroke-width="0.35" stroke-linejoin="round"/>
<polygon points="614.38,910.38 600.62,903.50 605.88,920.12" fill="#857070" stroke="#857070" stroke-width="0.35" stroke-linejoin="round"/>
<polygon points="600.62,903.50 599.75,903.50 599.75,921.25 605.88,920.12" fill="#f09040" stroke="#f09040" stroke-width="0.35" stroke-linejoin="round"/>
<polygon points="629.00,907.88 616.00,910.75 622.50,918.12" fill="#f0a088" stroke="#f0a088" stroke-width="0.35" stroke-linejoin="round"/>
<polygon points="616.00,910.75 614.38,910.38 605.88,920.12 622.50,918.50" fill="#f5c870" stroke="#f5c870" stroke-width="0.35" stroke-linejoin="round"/>
<polygon points="622.50,918.50 605.88,920.12 607.12,924.12 614.38,926.00" fill="#fff0a8" stroke="#fff0a8" stroke-width="0.35" stroke-linejoin="round"/>
<polygon points="638.75,909.50 629.00,907.75 622.50,918.12 624.12,917.62 629.00,915.25" fill="#5a5a58" stroke="#5a5a58" stroke-width="0.35" stroke-linejoin="round"/>
<polygon points="638.00,912.75 629.00,915.62 632.25,917.25" fill="#8a8040" stroke="#8a8040" stroke-width="0.35" stroke-linejoin="round"/>
<polygon points="649.25,906.88 638.75,909.50 638.00,912.75 650.50,910.00" fill="#f8d890" stroke="#f8d890" stroke-width="0.35" stroke-linejoin="round"/>
<polygon points="661.75,911.88 660.50,911.25 649.25,906.88 650.50,910.00 655.50,920.00 660.50,923.75" fill="#f09040" stroke="#f09040" stroke-width="0.35" stroke-linejoin="round"/>
<polygon points="650.50,910.00 643.00,920.00 655.50,926.25 655.50,920.00" fill="#c8a0a0" stroke="#c8a0a0" stroke-width="0.35" stroke-linejoin="round"/>
<polygon points="650.50,910.00 638.00,912.75 643.00,920.00" fill="#e8a090" stroke="#e8a090" stroke-width="0.35" stroke-linejoin="round"/>
<polygon points="638.00,912.75 632.25,917.25 640.50,927.50 643.00,920.00" fill="#8a6a58" stroke="#8a6a58" stroke-width="0.35" stroke-linejoin="round"/>
<polygon points="660.50,923.75 655.50,920.00 655.50,926.25" fill="#8a8050" stroke="#8a8050" stroke-width="0.35" stroke-linejoin="round"/>
<polygon points="655.50,926.25 643.00,920.00 640.50,927.50 649.25,930.00" fill="#c0b0b8" stroke="#c0b0b8" stroke-width="0.35" stroke-linejoin="round"/>
<polygon points="657.38,935.00 649.25,930.00 640.50,927.50 639.25,937.50 648.00,940.00" fill="#c8d0e8" stroke="#c8d0e8" stroke-width="0.35" stroke-linejoin="round"/>
<polygon points="661.75,911.88 660.50,923.75 668.00,936.25 673.00,942.50" fill="#c88850" stroke="#c88850" stroke-width="0.35" stroke-linejoin="round"/>
<polygon points="660.50,923.75 655.50,926.25 657.38,935.00 668.00,945.00 673.00,942.50 668.00,936.25" fill="#e8b090" stroke="#e8b090" stroke-width="0.35" stroke-linejoin="round"/>
<polygon points="655.50,926.25 649.25,930.00 657.38,935.00" fill="#b8b0a8" stroke="#b8b0a8" stroke-width="0.35" stroke-linejoin="round"/>
<polygon points="657.38,935.00 648.00,940.00 653.62,946.25 656.75,937.50" fill="#d8c8b0" stroke="#d8c8b0" stroke-width="0.35" stroke-linejoin="round"/>
<polygon points="648.00,940.00 639.25,937.50 630.50,942.50 636.75,945.00 643.00,938.75" fill="#e0e6f4" stroke="#e0e6f4" stroke-width="0.35" stroke-linejoin="round"/>
<polygon points="605.50,925.00 605.88,920.12 599.75,921.25 599.75,936.88" fill="#f5b040" stroke="#f5b040" stroke-width="0.35" stroke-linejoin="round"/>
<polygon points="610.50,927.50 607.12,924.12 605.50,925.00 599.75,936.88 606.75,941.25" fill="#f0c080" stroke="#f0c080" stroke-width="0.35" stroke-linejoin="round"/>
<polygon points="616.75,927.50 614.38,926.00 607.12,924.12 610.50,927.50" fill="#fff0b8" stroke="#fff0b8" stroke-width="0.35" stroke-linejoin="round"/>
<polygon points="618.62,933.75 616.75,927.50 610.50,927.50 606.75,941.25 608.62,943.75 618.62,941.88" fill="#b8b0b0" stroke="#b8b0b0" stroke-width="0.35" stroke-linejoin="round"/>
<polygon points="606.75,941.25 599.75,936.88 599.75,943.75 608.62,943.75" fill="#d8d8e0" stroke="#d8d8e0" stroke-width="0.35" stroke-linejoin="round"/>
<polygon points="630.50,942.50 624.25,935.00 618.62,933.75 618.62,941.88 624.25,945.00 636.75,945.00" fill="#fff0c8" stroke="#fff0c8" stroke-width="0.35" stroke-linejoin="round"/>
<polygon points="640.50,927.50 632.25,917.25 624.12,917.62 616.75,927.50 618.62,933.75 624.25,935.00 630.50,942.50 639.25,937.50" fill="#e6e0dc" stroke="#e6e0dc" stroke-width="0.35" stroke-linejoin="round"/>
<polygon points="618.62,941.88 608.62,943.75 610.50,951.88 615.50,948.75" fill="#c8d0f0" stroke="#c8d0f0" stroke-width="0.35" stroke-linejoin="round"/>
<polygon points="608.62,943.75 603.62,951.88 599.75,966.25 610.50,953.12 610.50,951.88" fill="#d0d0d8" stroke="#d0d0d8" stroke-width="0.35" stroke-linejoin="round"/>
<polygon points="608.62,943.75 599.75,943.75 603.62,951.88" fill="#9a7878" stroke="#9a7878" stroke-width="0.35" stroke-linejoin="round"/>
<polygon points="599.75,943.75 599.75,951.88 603.62,951.88" fill="#5070a8" stroke="#5070a8" stroke-width="0.35" stroke-linejoin="round"/>
<polygon points="603.62,951.88 599.75,951.88 599.75,966.25" fill="#3a3f68" stroke="#3a3f68" stroke-width="0.35" stroke-linejoin="round"/>
<polygon points="627.38,948.75 618.62,942.50 618.00,945.62" fill="#f0a088" stroke="#f0a088" stroke-width="0.35" stroke-linejoin="round"/>
<polygon points="627.38,948.75 618.00,945.62 615.50,948.75 628.00,950.00" fill="#b8b0b8" stroke="#b8b0b8" stroke-width="0.35" stroke-linejoin="round"/>
<polygon points="628.00,950.00 615.50,948.75 610.50,953.12 615.50,956.25 618.62,962.50" fill="#f8d8a8" stroke="#f8d8a8" stroke-width="0.35" stroke-linejoin="round"/>
<polygon points="618.62,962.50 615.50,956.25 610.50,953.12 599.75,966.25 603.00,967.50" fill="#f8c8a0" stroke="#f8c8a0" stroke-width="0.35" stroke-linejoin="round"/>
<polygon points="673.00,942.50 660.50,936.25 659.88,942.50 673.00,951.25" fill="#c08048" stroke="#c08048" stroke-width="0.35" stroke-linejoin="round"/>
<polygon points="671.12,937.50 661.75,935.00 660.50,936.25 673.00,942.50" fill="#e0a898" stroke="#e0a898" stroke-width="0.35" stroke-linejoin="round"/>
<polygon points="673.00,951.25 659.88,942.50 665.50,963.75 668.62,971.25" fill="#c89a48" stroke="#c89a48" stroke-width="0.35" stroke-linejoin="round"/>
<polygon points="659.88,942.50 648.00,961.88 672.38,983.12 665.50,963.75" fill="#f0a028" stroke="#f0a028" stroke-width="0.35" stroke-linejoin="round"/>
<polygon points="648.00,961.88 645.50,976.25 651.75,977.50 672.38,983.12" fill="#8a6248" stroke="#8a6248" stroke-width="0.35" stroke-linejoin="round"/>
<polygon points="651.75,977.50 645.50,976.25 646.12,991.25" fill="#c8a040" stroke="#c8a040" stroke-width="0.35" stroke-linejoin="round"/>
<polygon points="645.50,976.25 638.00,983.75 646.12,991.25" fill="#8a8040" stroke="#8a8040" stroke-width="0.35" stroke-linejoin="round"/>
<polygon points="648.00,961.88 625.50,976.25 638.00,983.75 645.50,976.25" fill="#857070" stroke="#857070" stroke-width="0.35" stroke-linejoin="round"/>
<polygon points="638.00,983.75 625.50,976.25 626.75,985.00 634.25,991.88" fill="#b0a8a8" stroke="#b0a8a8" stroke-width="0.35" stroke-linejoin="round"/>
<polygon points="626.75,985.00 625.50,976.25 621.75,985.00 621.75,990.00 634.25,991.88" fill="#c8c8d0" stroke="#c8c8d0" stroke-width="0.35" stroke-linejoin="round"/>
<polygon points="659.88,942.50 660.50,936.25 656.75,937.50 653.62,946.25 646.75,958.75 648.00,961.88" fill="#6a4444" stroke="#6a4444" stroke-width="0.35" stroke-linejoin="round"/>
<polygon points="653.62,946.25 643.00,938.75 636.75,945.00 645.50,955.62 646.75,958.75" fill="#c0c8e0" stroke="#c0c8e0" stroke-width="0.35" stroke-linejoin="round"/>
<polygon points="656.75,937.50 653.62,933.75 643.00,938.75 653.62,946.25" fill="#d8c8b0" stroke="#d8c8b0" stroke-width="0.35" stroke-linejoin="round"/>
<polygon points="643.00,938.75 636.75,942.50 628.00,950.62 636.75,951.25 636.75,945.00" fill="#d0d0d8" stroke="#d0d0d8" stroke-width="0.35" stroke-linejoin="round"/>
<polygon points="645.50,955.62 636.75,945.00 636.75,951.25 628.00,950.62 647.38,961.88" fill="#f8c8a0" stroke="#f8c8a0" stroke-width="0.35" stroke-linejoin="round"/>
<polygon points="647.38,961.88 628.00,950.62 630.50,965.00 643.00,965.00" fill="#f8b840" stroke="#f8b840" stroke-width="0.35" stroke-linejoin="round"/>
<polygon points="628.00,950.62 625.50,976.25 643.00,965.00 630.50,965.00" fill="#f8b060" stroke="#f8b060" stroke-width="0.35" stroke-linejoin="round"/>
<polygon points="628.00,950.62 620.50,963.75 625.50,976.25" fill="#e0b0a0" stroke="#e0b0a0" stroke-width="0.35" stroke-linejoin="round"/>
<polygon points="620.50,963.75 619.25,972.50 621.75,985.00 625.50,976.25" fill="#fff0a8" stroke="#fff0a8" stroke-width="0.35" stroke-linejoin="round"/>
<polygon points="620.50,963.75 619.25,964.38 613.00,976.25 620.50,983.75 621.75,985.00 619.25,972.50" fill="#f09878" stroke="#f09878" stroke-width="0.35" stroke-linejoin="round"/>
<polygon points="619.25,964.38 606.75,966.25 613.00,976.25" fill="#f8a850" stroke="#f8a850" stroke-width="0.35" stroke-linejoin="round"/>
<polygon points="628.00,950.62 618.00,953.75 599.75,966.25 606.75,966.25 619.25,964.38 620.50,963.75" fill="#f8c8a0" stroke="#f8c8a0" stroke-width="0.35" stroke-linejoin="round"/>
<polygon points="628.00,950.62 621.75,942.50 615.50,951.25 618.00,953.75" fill="#f8c870" stroke="#f8c870" stroke-width="0.35" stroke-linejoin="round"/>
<polygon points="636.75,942.50 630.50,942.50 621.75,942.50 628.00,950.62" fill="#f8d8a0" stroke="#f8d8a0" stroke-width="0.35" stroke-linejoin="round"/>
<polygon points="630.50,942.50 618.00,937.50 610.50,945.00 615.50,951.25 621.75,942.50" fill="#b8b0b8" stroke="#b8b0b8" stroke-width="0.35" stroke-linejoin="round"/>
<polygon points="618.00,937.50 610.50,945.00 605.50,953.75 615.50,951.25" fill="#c8d0e8" stroke="#c8d0e8" stroke-width="0.35" stroke-linejoin="round"/>
<polygon points="615.50,951.25 605.50,953.75 599.75,966.25 618.00,953.75" fill="#d8d8e0" stroke="#d8d8e0" stroke-width="0.35" stroke-linejoin="round"/>
<polygon points="610.50,945.00 599.75,945.00 599.75,951.25 605.50,953.75" fill="#9a7878" stroke="#9a7878" stroke-width="0.35" stroke-linejoin="round"/>
<polygon points="606.75,966.25 599.75,966.25 599.75,977.50 606.75,976.25" fill="#f09040" stroke="#f09040" stroke-width="0.35" stroke-linejoin="round"/>
<polygon points="613.00,976.25 606.75,966.25 606.75,976.25 609.25,981.25" fill="#e8b0a0" stroke="#e8b0a0" stroke-width="0.35" stroke-linejoin="round"/>
<polygon points="620.50,983.75 613.00,976.25 609.25,981.25 612.38,990.00 621.75,990.00 621.75,985.00" fill="#a08080" stroke="#a08080" stroke-width="0.35" stroke-linejoin="round"/>
<polygon points="609.25,981.25 606.75,976.25 599.75,977.50 599.75,987.50 605.50,988.75" fill="#8a6a48" stroke="#8a6a48" stroke-width="0.35" stroke-linejoin="round"/>
<polygon points="609.25,981.25 605.50,988.75 606.75,992.50 612.38,990.00" fill="#7a7038" stroke="#7a7038" stroke-width="0.35" stroke-linejoin="round"/>
<polygon points="605.50,988.75 599.75,987.50 599.75,990.00 606.75,992.50" fill="#6a5a40" stroke="#6a5a40" stroke-width="0.35" stroke-linejoin="round"/>
<ellipse cx="627.38" cy="927.42" rx="14.2" ry="10.9" fill="#4a3030"/>
<circle cx="627.38" cy="926.52" r="10.2" fill="#f0a020"/>
<circle cx="627.38" cy="929.12" r="7.9" fill="#f8cc20"/>
<circle cx="627.67" cy="927.33" r="5.3" fill="#4a2e2e"/>
<polygon points="622.20,986.20 626.30,979.00 630.50,1000.70" fill="#d0d0d8" stroke="#d0d0d8" stroke-width="0.4" stroke-linejoin="round"/>
<polygon points="626.30,979.00 637.40,986.20 630.50,1000.70" fill="#b0a8a8" stroke="#b0a8a8" stroke-width="0.4" stroke-linejoin="round"/>
<polygon points="613.20,979.00 620.80,984.10 619.40,1000.70" fill="#a08080" stroke="#a08080" stroke-width="0.4" stroke-linejoin="round"/>
<polygon points="607.00,982.80 613.20,979.00 615.30,993.80 610.50,1005.50" fill="#8a6a48" stroke="#8a6a48" stroke-width="0.4" stroke-linejoin="round"/>
<polygon points="602.60,996.60 607.00,982.80 609.40,1004.80" fill="#7a7038" stroke="#7a7038" stroke-width="0.4" stroke-linejoin="round"/>
<polygon points="631.90,979.00 641.00,979.00 641.00,984.10 637.40,986.20" fill="#6a5058" stroke="#6a5058" stroke-width="0.4" stroke-linejoin="round"/>
<polygon points="593.10,980.90 602.50,980.90 598.60,996.60" fill="#8a6a48" stroke="#8a6a48" stroke-width="0.4" stroke-linejoin="round"/>
<polygon points="601.70,983.00 607.20,985.00 608.75,1001.20" fill="#7a7038" stroke="#7a7038" stroke-width="0.4" stroke-linejoin="round"/>
<polygon points="586.90,979.40 593.10,980.90 594.70,991.90 588.40,988.80" fill="#6a4a40" stroke="#6a4a40" stroke-width="0.4" stroke-linejoin="round"/>
<polygon points="579.00,980.90 586.90,979.40 588.40,988.80 582.20,988.00" fill="#9a7878" stroke="#9a7878" stroke-width="0.4" stroke-linejoin="round"/>
</g></g>
<g transform="translate(287.52 756.83) scale(0.731 0.78)">
<path d="M225.75 185.12 C225.55 184.61 225.05 182.81 224.53 182.03 C224.02 181.25 223.52 180.36 222.66 180.44 C221.80 180.52 220.47 181.06 219.37 182.50 C218.28 183.94 216.87 186.72 216.09 189.06 C215.31 191.41 214.69 193.91 214.69 196.56 C214.69 199.22 215.16 202.89 216.09 205.00 C217.03 207.11 218.83 208.83 220.31 209.22 C221.80 209.61 223.52 208.44 225.00 207.34 C226.48 206.25 228.52 203.44 229.22 202.66 M231.37 198.44 C231.56 197.58 231.69 194.61 232.50 193.28 C233.31 191.95 234.92 190.55 236.25 190.47 C237.58 190.39 239.53 191.64 240.47 192.81 C241.41 193.98 242.03 195.62 241.87 197.50 C241.72 199.37 240.62 202.58 239.53 204.06 C238.44 205.55 236.56 206.48 235.31 206.41 C234.06 206.33 232.69 204.92 232.03 203.59 C231.37 202.26 231.48 199.30 231.37 198.44 M238.12 191.12 C238.67 191.41 240.39 192.14 241.41 192.81 C242.42 193.48 243.75 194.77 244.22 195.16" fill="none" stroke="#54688f" stroke-width="1.4" stroke-linecap="round" stroke-linejoin="round"/>
<path d="M220.31 182.03 C219.69 183.05 217.47 185.70 216.56 188.12 C215.66 190.55 214.95 193.83 214.87 196.56 C214.80 199.30 215.34 202.53 216.09 204.53 C216.84 206.53 218.83 207.89 219.37 208.56 M231.75 196.09 C231.72 196.80 231.28 198.80 231.56 200.31 C231.84 201.83 233.12 204.37 233.44 205.19 M241.41 194.22 C241.45 195.08 241.95 197.81 241.69 199.37 C241.42 200.94 240.12 202.89 239.81 203.59" fill="none" stroke="#54688f" stroke-width="3.2" stroke-linecap="round" stroke-linejoin="round"/>
<path d="M245.40 198.60 C245.55 197.50 246.05 193.97 246.30 192.00 C246.55 190.03 247.15 187.80 246.90 186.80 C246.65 185.80 244.68 186.23 244.80 186.00 C244.92 185.77 247.03 185.07 247.60 185.40 C248.17 185.73 247.73 187.15 248.20 188.00 C248.67 188.85 249.73 189.87 250.40 190.50 C251.07 191.13 251.90 191.58 252.20 191.80 M254.80 208.00 C255.22 207.87 256.37 208.55 257.30 207.20 C258.23 205.85 259.57 203.10 260.40 199.90 C261.23 196.70 261.98 189.98 262.30 188.00 M265.00 203.80 C265.52 203.58 267.17 203.87 268.10 202.50 C269.03 201.13 270.02 197.78 270.60 195.60 C271.18 193.42 271.43 190.43 271.60 189.40 M273.80 204.40 C274.22 204.08 275.58 203.97 276.30 202.50 C277.02 201.03 277.65 198.10 278.10 195.60 C278.55 193.10 278.85 188.85 279.00 187.50 M276.30 216.20 C276.03 216.00 275.02 215.72 274.70 215.00 C274.38 214.28 274.03 213.15 274.40 211.90 C274.77 210.65 275.75 208.97 276.90 207.50 C278.05 206.03 279.95 204.35 281.30 203.10 C282.65 201.85 284.38 200.52 285.00 200.00 M292.90 187.90 C292.32 187.63 290.57 185.98 289.40 186.30 C288.23 186.62 286.68 188.17 285.90 189.80 C285.12 191.43 284.63 194.13 284.70 196.10 C284.77 198.07 285.52 200.68 286.30 201.60 C287.08 202.52 288.37 202.38 289.40 201.60 C290.43 200.82 291.78 199.00 292.50 196.90 C293.22 194.80 293.50 190.32 293.70 189.00 M296.80 203.90 C297.38 203.63 299.20 203.60 300.30 202.30 C301.40 201.00 302.72 197.33 303.40 196.10 C304.08 194.87 304.23 195.10 304.40 194.90" fill="none" stroke="#54688f" stroke-width="1.3" stroke-linecap="round" stroke-linejoin="round"/>
<path d="M252.20 191.80 C252.32 193.67 252.47 200.30 252.90 203.00 C253.33 205.70 254.48 207.17 254.80 208.00 M262.50 187.80 C262.55 189.63 262.38 196.13 262.80 198.80 C263.22 201.47 264.63 202.97 265.00 203.80 M271.50 189.60 C271.52 191.33 271.22 197.53 271.60 200.00 C271.98 202.47 273.43 203.67 273.80 204.40 M278.90 187.80 C278.98 190.35 279.53 198.98 279.40 203.10 C279.27 207.22 278.62 210.32 278.10 212.50 C277.58 214.68 276.60 215.58 276.30 216.20 M288.60 187.20 C288.15 187.70 286.52 188.72 285.90 190.20 C285.28 191.68 284.82 194.30 284.90 196.10 C284.98 197.90 286.15 200.18 286.40 201.00 M294.00 186.90 C294.08 188.82 294.03 195.57 294.50 198.40 C294.97 201.23 296.42 202.98 296.80 203.90" fill="none" stroke="#54688f" stroke-width="3.0" stroke-linecap="round" stroke-linejoin="round"/>
<circle cx="278.10" cy="180.40" r="1.9" fill="#54688f"/>
</g>
<g transform="translate(232.65 803.18) scale(0.66 0.66)">
<path d="M312.40 200.80 C312.02 200.67 310.82 199.62 310.10 200.00 C309.38 200.38 308.37 201.93 308.10 203.10 C307.83 204.27 308.03 206.22 308.50 207.00 C308.97 207.78 310.18 208.18 310.90 207.80 C311.62 207.42 312.48 205.22 312.80 204.70 M314.80 192.60 C314.53 193.97 313.53 198.27 313.20 200.80 C312.87 203.33 312.47 206.43 312.80 207.80 C313.13 209.17 314.48 209.25 315.20 209.00 C315.92 208.75 316.78 206.75 317.10 206.30 M322.60 197.70 C322.13 198.08 320.32 198.83 319.80 200.00 C319.28 201.17 319.17 203.60 319.50 204.70 C319.83 205.80 320.90 206.60 321.80 206.60 C322.70 206.60 324.25 205.80 324.90 204.70 C325.55 203.60 326.08 201.17 325.70 200.00 C325.32 198.83 323.12 198.08 322.60 197.70 M325.70 198.40 L327.80 197.50" fill="none" stroke="#44405b" stroke-width="1.5" stroke-linecap="round" stroke-linejoin="round"/>
</g>
<g transform="translate(217.54 794.98) scale(0.713 0.71)">
<path d="M340.50 187.20 C340.82 186.75 342.22 185.60 342.40 184.50 C342.58 183.40 342.38 181.58 341.60 180.60 C340.82 179.62 339.07 178.80 337.70 178.60 C336.33 178.40 334.63 178.68 333.40 179.40 C332.17 180.12 330.82 182.32 330.30 182.90 M341.60 213.40 C341.08 213.73 339.60 215.27 338.50 215.40 C337.40 215.53 335.78 214.92 335.00 214.20 C334.22 213.48 333.73 212.02 333.80 211.10 C333.87 210.18 335.13 209.10 335.40 208.70 M359.60 195.40 C359.22 195.02 358.28 193.55 357.30 193.10 C356.32 192.65 355.02 192.05 353.70 192.70 C352.38 193.35 350.43 195.12 349.40 197.00 C348.37 198.88 347.62 201.78 347.50 204.00 C347.38 206.22 347.98 209.00 348.70 210.30 C349.42 211.60 350.50 212.32 351.80 211.80 C353.10 211.28 355.20 209.53 356.50 207.20 C357.80 204.87 359.08 199.37 359.60 197.80 M364.30 212.60 C364.95 212.22 367.02 211.90 368.20 210.30 C369.38 208.70 370.52 205.72 371.40 203.00 C372.28 200.28 372.92 196.82 373.50 194.00 C374.08 191.18 374.73 188.47 374.90 186.10 C375.07 183.73 374.90 181.05 374.50 179.80 C374.10 178.55 373.22 178.47 372.50 178.60 C371.78 178.73 370.58 180.27 370.20 180.60 M371.40 200.90 C372.05 200.12 374.00 197.12 375.30 196.20 C376.60 195.28 378.10 195.00 379.20 195.40 C380.30 195.80 381.32 197.03 381.90 198.60 C382.48 200.17 382.95 202.72 382.70 204.80 C382.45 206.88 381.38 209.47 380.40 211.10 C379.42 212.73 377.78 213.95 376.80 214.60 C375.82 215.25 374.68 215.33 374.50 215.00 C374.32 214.67 374.72 213.25 375.70 212.60 C376.68 211.95 378.78 212.07 380.40 211.10 C382.02 210.13 383.97 208.10 385.40 206.80 C386.83 205.50 388.40 203.88 389.00 203.30 M389.00 203.30 C389.97 202.38 393.32 199.63 394.80 197.80 C396.28 195.97 397.63 193.80 397.90 192.30 C398.17 190.80 397.17 189.25 396.40 188.80 C395.63 188.35 394.35 188.62 393.30 189.60 C392.25 190.58 390.63 193.85 390.10 194.70 M394.80 211.10 C395.72 210.97 398.70 211.35 400.30 210.30 C401.90 209.25 403.20 207.28 404.40 204.80 C405.60 202.32 406.78 198.13 407.50 195.40 C408.22 192.67 408.83 189.95 408.70 188.40 C408.57 186.85 407.35 186.30 406.70 186.10 C406.05 185.90 404.93 186.55 404.80 187.20 C404.67 187.85 405.18 189.28 405.90 190.00 C406.62 190.72 408.05 191.05 409.10 191.50 C410.15 191.95 411.30 192.30 412.20 192.70 C413.10 193.10 414.12 193.70 414.50 193.90 M418.40 214.20 C418.80 213.93 419.88 214.03 420.80 212.60 C421.72 211.17 423.12 207.42 423.90 205.60 C424.68 203.78 425.23 202.35 425.50 201.70" fill="none" stroke="#e9982a" stroke-width="1.5" stroke-linecap="round" stroke-linejoin="round"/>
<path d="M330.60 182.60 C330.55 183.43 329.90 185.85 330.30 187.60 C330.70 189.35 331.63 191.15 333.00 193.10 C334.37 195.05 336.87 197.22 338.50 199.30 C340.13 201.38 341.95 203.77 342.80 205.60 C343.65 207.43 343.80 209.00 343.60 210.30 C343.40 211.60 341.93 212.88 341.60 213.40 M352.50 193.60 C351.98 194.20 350.20 195.47 349.40 197.20 C348.60 198.93 347.78 201.87 347.70 204.00 C347.62 206.13 348.35 208.73 348.90 210.00 C349.45 211.27 350.65 211.33 351.00 211.60 M360.80 194.30 C360.73 195.80 360.28 200.63 360.40 203.30 C360.52 205.97 360.85 208.75 361.50 210.30 C362.15 211.85 363.83 212.22 364.30 212.60 M370.20 180.60 C370.07 182.42 369.47 187.72 369.40 191.50 C369.33 195.28 369.53 200.03 369.80 203.30 C370.07 206.57 370.73 209.42 371.00 211.10 C371.27 212.78 371.33 213.02 371.40 213.40 M381.60 198.20 C381.78 199.30 382.87 202.73 382.70 204.80 C382.53 206.87 380.95 209.63 380.60 210.60 M391.60 192.00 C391.27 192.75 390.03 194.88 389.60 196.50 C389.17 198.12 388.85 199.80 389.00 201.70 C389.15 203.60 389.53 206.33 390.50 207.90 C391.47 209.47 394.08 210.57 394.80 211.10 M414.50 193.90 C414.57 195.47 414.63 200.43 414.90 203.30 C415.17 206.17 415.52 209.28 416.10 211.10 C416.68 212.92 418.02 213.68 418.40 214.20" fill="none" stroke="#e9982a" stroke-width="3.3" stroke-linecap="round" stroke-linejoin="round"/>
</g>
<g transform="translate(402.56 922.90) scale(0.315 0.3)">
<path d="M134.38 153.50 C133.90 152.60 131.98 150.27 131.50 148.12 C131.02 145.98 130.81 142.92 131.50 140.62 C132.19 138.33 133.69 135.77 135.62 134.38 C137.56 132.98 140.62 132.25 143.12 132.25 C145.62 132.25 148.90 133.08 150.62 134.38 C152.35 135.67 153.40 138.12 153.50 140.00 C153.60 141.88 152.56 144.02 151.25 145.62 C149.94 147.23 145.52 148.79 145.62 149.62 C145.73 150.46 150.17 149.62 151.88 150.62 C153.58 151.62 155.42 153.85 155.88 155.62 C156.33 157.40 155.71 159.85 154.62 161.25 C153.54 162.65 151.19 163.69 149.38 164.00 C147.56 164.31 145.15 163.79 143.75 163.12 C142.35 162.46 141.46 160.52 141.00 160.00 M140.62 139.00 C140.62 140.83 140.56 146.50 140.62 150.00 C140.69 153.50 140.94 158.33 141.00 160.00 M161.25 149.00 C161.25 150.62 160.98 156.44 161.25 158.75 C161.52 161.06 162.04 162.35 162.88 162.88 C163.71 163.40 165.17 163.19 166.25 161.88 C167.33 160.56 168.33 158.02 169.38 155.00 C170.42 151.98 171.81 146.77 172.50 143.75 C173.19 140.73 173.60 138.65 173.50 136.88 C173.40 135.10 172.62 133.44 171.88 133.12 C171.12 132.81 169.62 133.44 169.00 135.00 C168.38 136.56 168.27 138.96 168.12 142.50 C167.98 146.04 167.85 152.96 168.12 156.25 C168.40 159.54 168.81 161.10 169.75 162.25 C170.69 163.40 172.50 163.60 173.75 163.12 C175.00 162.65 176.62 160.94 177.25 159.38 C177.88 157.81 177.88 155.31 177.50 153.75 C177.12 152.19 175.83 150.56 175.00 150.00 C174.17 149.44 172.92 150.31 172.50 150.38 M175.62 150.38 C176.35 150.48 178.54 151.90 180.00 151.00 C181.46 150.10 183.23 147.35 184.38 145.00 C185.52 142.65 186.73 138.90 186.88 136.88 C187.02 134.85 185.98 133.23 185.25 132.88 C184.52 132.52 183.12 133.15 182.50 134.75 C181.88 136.35 181.67 138.71 181.50 142.50 C181.33 146.29 181.17 154.12 181.50 157.50 C181.83 160.88 182.50 161.98 183.50 162.75 C184.50 163.52 186.31 162.96 187.50 162.12 C188.69 161.29 190.10 158.48 190.62 157.75" fill="none" stroke="#44405b" stroke-width="4.2" stroke-linecap="round" stroke-linejoin="round"/>
<circle cx="161.25" cy="140.00" r="2.6" fill="#44405b"/>
<path d="M190.62 157.75 C191.25 157.29 193.48 156.40 194.38 155.00 C195.27 153.60 195.73 150.31 196.00 149.38 M196.00 149.38 C196.00 150.94 195.75 156.52 196.00 158.75 C196.25 160.98 196.62 162.23 197.50 162.75 C198.38 163.27 200.21 162.85 201.25 161.88 C202.29 160.90 203.33 157.71 203.75 156.88 M203.75 156.88 C203.96 155.94 204.27 152.54 205.00 151.25 C205.73 149.96 206.98 149.02 208.12 149.12 C209.27 149.23 211.10 150.58 211.88 151.88 C212.65 153.17 212.96 155.15 212.75 156.88 C212.54 158.60 211.50 161.21 210.62 162.25 C209.75 163.29 208.54 163.40 207.50 163.12 C206.46 162.85 205.00 161.67 204.38 160.62 C203.75 159.58 203.85 157.50 203.75 156.88 M210.00 150.00 L215.62 150.38 M221.25 133.12 C221.25 137.40 221.00 153.81 221.25 158.75 C221.50 163.69 221.81 162.23 222.75 162.75 C223.69 163.27 225.71 162.71 226.88 161.88 C228.04 161.04 229.27 158.44 229.75 157.75 M215.00 150.38 L228.12 150.00 M229.75 157.75 C230.62 157.29 233.81 156.08 235.00 155.00 C236.19 153.92 236.92 152.29 236.88 151.25 C236.83 150.21 235.73 148.71 234.75 148.75 C233.77 148.79 231.79 150.00 231.00 151.50 C230.21 153.00 229.69 155.85 230.00 157.75 C230.31 159.65 231.52 162.12 232.88 162.88 C234.23 163.62 236.69 162.98 238.12 162.25 C239.56 161.52 240.94 159.12 241.50 158.50 M250.62 151.50 C250.00 151.08 248.12 148.79 246.88 149.00 C245.62 149.21 243.85 151.02 243.12 152.75 C242.40 154.48 242.08 157.65 242.50 159.38 C242.92 161.10 244.27 162.67 245.62 163.12 C246.98 163.58 249.31 162.90 250.62 162.12 C251.94 161.35 253.02 159.10 253.50 158.50" fill="none" stroke="#44405b" stroke-width="4.2" stroke-linecap="round" stroke-linejoin="round"/>
<circle cx="196.00" cy="140.62" r="2.6" fill="#44405b"/>
<path d="M264.38 151.88 C263.75 151.40 261.94 148.85 260.62 149.00 C259.31 149.15 257.33 150.96 256.50 152.75 C255.67 154.54 255.29 158.02 255.62 159.75 C255.96 161.48 257.31 162.92 258.50 163.12 C259.69 163.33 261.71 162.46 262.75 161.00 C263.79 159.54 264.42 155.48 264.75 154.38 M265.00 149.38 C265.00 151.04 264.69 157.12 265.00 159.38 C265.31 161.62 266.04 162.56 266.88 162.88 C267.71 163.19 269.23 162.10 270.00 161.25 C270.77 160.40 271.25 158.33 271.50 157.75 M279.38 161.00 C279.69 161.42 280.56 163.46 281.25 163.50 C281.94 163.54 283.02 163.50 283.50 161.25 C283.98 159.00 283.88 153.96 284.12 150.00 C284.38 146.04 284.40 140.31 285.00 137.50 C285.60 134.69 286.75 133.33 287.75 133.12 C288.75 132.92 290.35 133.44 291.00 136.25 C291.65 139.06 291.52 145.62 291.62 150.00 C291.73 154.38 291.62 160.42 291.62 162.50 M291.62 140.00 C292.23 138.81 294.06 133.50 295.25 132.88 C296.44 132.25 298.06 133.40 298.75 136.25 C299.44 139.10 299.21 146.08 299.38 150.00 C299.54 153.92 299.33 157.56 299.75 159.75 C300.17 161.94 301.00 162.88 301.88 163.12 C302.75 163.38 304.48 161.56 305.00 161.25 M309.00 156.88 C309.21 155.94 309.52 152.54 310.25 151.25 C310.98 149.96 312.23 149.02 313.38 149.12 C314.52 149.23 316.40 150.58 317.12 151.88 C317.85 153.17 317.96 155.15 317.75 156.88 C317.54 158.60 316.71 161.21 315.88 162.25 C315.04 163.29 313.79 163.40 312.75 163.12 C311.71 162.85 310.25 161.67 309.62 160.62 C309.00 159.58 309.10 157.50 309.00 156.88 M311.50 143.75 L316.00 137.12 M315.62 150.00 C316.88 149.96 321.56 149.75 323.12 149.75 C324.69 149.75 324.31 148.92 325.00 150.00 C325.69 151.08 326.58 154.12 327.25 156.25 C327.92 158.38 328.29 161.67 329.00 162.75 C329.71 163.83 330.67 163.83 331.50 162.75 C332.33 161.67 333.42 158.38 334.00 156.25 C334.58 154.12 334.83 151.04 335.00 150.00" fill="none" stroke="#44405b" stroke-width="4.2" stroke-linecap="round" stroke-linejoin="round"/>
<path d="M334.00 158.75 C334.33 157.92 335.58 155.31 336.00 153.75 C336.42 152.19 336.42 150.10 336.50 149.38 M338.12 157.75 C339.06 157.29 342.50 156.08 343.75 155.00 C345.00 153.92 345.67 152.29 345.62 151.25 C345.58 150.21 344.48 148.71 343.50 148.75 C342.52 148.79 340.54 150.00 339.75 151.50 C338.96 153.00 338.44 155.85 338.75 157.75 C339.06 159.65 340.33 162.12 341.62 162.88 C342.92 163.62 345.10 163.04 346.50 162.25 C347.90 161.46 349.42 158.81 350.00 158.12 M350.00 158.12 C350.73 156.35 353.08 150.94 354.38 147.50 C355.67 144.06 357.33 139.90 357.75 137.50 C358.17 135.10 357.50 133.54 356.88 133.12 C356.25 132.71 354.62 133.23 354.00 135.00 C353.38 136.77 353.27 140.00 353.12 143.75 C352.98 147.50 352.81 154.33 353.12 157.50 C353.44 160.67 354.02 161.92 355.00 162.75 C355.98 163.58 357.85 163.38 359.00 162.50 C360.15 161.62 361.40 158.33 361.88 157.50" fill="none" stroke="#44405b" stroke-width="4.2" stroke-linecap="round" stroke-linejoin="round"/>
</g>
<g transform="translate(345.64 934.17) scale(0.305 0.31)">
<path d="M375.62 161.00 C375.94 161.42 376.81 163.46 377.50 163.50 C378.19 163.54 379.27 163.50 379.75 161.25 C380.23 159.00 380.12 153.96 380.38 150.00 C380.62 146.04 380.65 140.31 381.25 137.50 C381.85 134.69 383.00 133.33 384.00 133.12 C385.00 132.92 386.60 133.44 387.25 136.25 C387.90 139.06 387.77 145.62 387.88 150.00 C387.98 154.38 387.88 160.42 387.88 162.50 M387.88 140.00 C388.50 138.81 390.40 133.50 391.62 132.88 C392.85 132.25 394.56 133.40 395.25 136.25 C395.94 139.10 395.60 146.08 395.75 150.00 C395.90 153.92 395.71 157.56 396.12 159.75 C396.54 161.94 397.35 162.83 398.25 163.12 C399.15 163.42 400.71 162.54 401.50 161.50 C402.29 160.46 402.75 157.65 403.00 156.88" fill="none" stroke="#44405b" stroke-width="4.2" stroke-linecap="round" stroke-linejoin="round"/>
<path d="M403.12 149.38 C403.12 150.94 402.81 156.50 403.12 158.75 C403.44 161.00 404.06 162.35 405.00 162.88 C405.94 163.40 407.60 163.19 408.75 161.88 C409.90 160.56 411.25 157.08 411.88 155.00 C412.50 152.92 412.40 150.31 412.50 149.38 M412.50 149.38 C412.50 151.04 412.25 157.12 412.50 159.38 C412.75 161.62 413.27 162.46 414.00 162.88 C414.73 163.29 416.08 162.77 416.88 161.88 C417.67 160.98 418.44 158.23 418.75 157.50 M419.38 149.38 L419.38 162.88 M419.38 155.62 C419.79 154.85 420.83 152.10 421.88 151.00 C422.92 149.90 424.58 148.85 425.62 149.00 C426.67 149.15 427.65 150.15 428.12 151.88 C428.60 153.60 428.19 157.54 428.50 159.38 C428.81 161.21 429.23 162.46 430.00 162.88 C430.77 163.29 432.29 162.77 433.12 161.88 C433.96 160.98 434.69 158.23 435.00 157.50 M436.50 149.38 C436.50 150.98 436.23 156.75 436.50 159.00 C436.77 161.25 437.29 162.40 438.12 162.88 C438.96 163.35 440.56 162.67 441.50 161.88 C442.44 161.08 443.38 158.75 443.75 158.12 M453.12 151.50 C452.50 151.08 450.62 148.79 449.38 149.00 C448.12 149.21 446.35 151.02 445.62 152.75 C444.90 154.48 444.58 157.65 445.00 159.38 C445.42 161.10 446.83 162.67 448.12 163.12 C449.42 163.58 451.44 162.96 452.75 162.12 C454.06 161.29 455.46 158.79 456.00 158.12 M458.50 149.38 C458.50 150.98 458.25 156.75 458.50 159.00 C458.75 161.25 459.17 162.40 460.00 162.88 C460.83 163.35 462.56 162.77 463.50 161.88 C464.44 160.98 465.27 158.23 465.62 157.50" fill="none" stroke="#44405b" stroke-width="4.2" stroke-linecap="round" stroke-linejoin="round"/>
<circle cx="436.50" cy="138.50" r="2.6" fill="#44405b"/>
<circle cx="458.50" cy="138.50" r="2.6" fill="#44405b"/>
<path d="M467.50 149.38 L467.50 178.75 M467.50 155.62 C467.92 154.83 468.96 151.98 470.00 150.88 C471.04 149.77 472.50 148.83 473.75 149.00 C475.00 149.17 476.77 150.46 477.50 151.88 C478.23 153.29 478.44 155.73 478.12 157.50 C477.81 159.27 476.77 161.56 475.62 162.50 C474.48 163.44 472.54 163.44 471.25 163.12 C469.96 162.81 468.44 161.04 467.88 160.62 M491.25 151.88 C490.62 151.40 488.79 148.85 487.50 149.00 C486.21 149.15 484.29 150.96 483.50 152.75 C482.71 154.54 482.40 158.02 482.75 159.75 C483.10 161.48 484.46 162.92 485.62 163.12 C486.79 163.33 488.71 162.46 489.75 161.00 C490.79 159.54 491.52 155.48 491.88 154.38 M492.12 149.38 C492.12 151.04 491.85 157.12 492.12 159.38 C492.40 161.62 492.96 162.56 493.75 162.88 C494.54 163.19 496.35 161.52 496.88 161.25 M496.88 161.25 C497.40 159.38 498.96 153.75 500.00 150.00 C501.04 146.25 502.71 141.50 503.12 138.75 C503.54 136.00 503.06 134.23 502.50 133.50 C501.94 132.77 500.42 133.08 499.75 134.38 C499.08 135.67 498.71 137.40 498.50 141.25 C498.29 145.10 498.21 153.92 498.50 157.50 C498.79 161.08 499.27 161.96 500.25 162.75 C501.23 163.54 503.17 163.08 504.38 162.25 C505.58 161.42 506.81 158.96 507.50 157.75 C508.19 156.54 508.33 155.46 508.50 155.00" fill="none" stroke="#44405b" stroke-width="4.2" stroke-linecap="round" stroke-linejoin="round"/>
</g>
<text x="567.3" y="879.7" font-family="Liberation Sans, sans-serif" font-size="6.7" fill="#4a4860" textLength="63.5" lengthAdjust="spacingAndGlyphs"><tspan font-weight="400">www.</tspan><tspan font-weight="700">cm-coruche</tspan><tspan font-weight="400">.pt</tspan></text>
<g transform="translate(25 958) scale(0.14064697609001406)">
<path d="M38 128 C50 112 58 104 80 102 C100 94 128 96 142 103 C134 112 120 112 110 120 C102 128 96 131 90 130 C84 122 66 126 38 128 Z" fill="#4f8a38"/><path d="M60 112 C80 102 110 100 132 104 C110 104 84 106 60 112 Z" fill="#8cc05a"/>
<path d="M146 140 C300 146 450 128 564 90 C450 112 300 128 146 131 Z" fill="#7ec4ea"/>
<defs><linearGradient id="brg25" x1="0" x2="1" y1="0" y2="0"><stop offset="0" stop-color="#f7d51f"/><stop offset="0.5" stop-color="#f0892a"/><stop offset="1" stop-color="#d8262e"/></linearGradient></defs>
<path d="M146 130 L182 89 L430 89 L456 112 M146 130 L456 116 M182 89 L182 128 M182 128 L222 89 L222 126 L262 89 L262 124 L302 89 L302 122 L342 89 L342 121 L382 89 L382 119 L422 89 L422 117" fill="none" stroke="url(#brg25)" stroke-width="6.5" stroke-linejoin="round"/>
<path d="M466 106 L466 68 L474 60 L480 60 L483 36 L486 60 L492 60 L500 68 L500 104 Z" fill="#2f5fae"/>
<rect x="477" y="78" width="12" height="20" fill="#9ec3ea"/>
<text x="72" y="226" font-family="Liberation Sans, sans-serif" font-weight="700" font-size="112" fill="#1f4b9c" stroke="#1f4b9c" stroke-width="0.8" textLength="445" lengthAdjust="spacingAndGlyphs">coruche</text>
<text x="76" y="268" font-family="Liberation Sans, sans-serif" font-weight="700" font-size="42" fill="#5f83c4" textLength="436" lengthAdjust="spacing">município</text>
</g>
<g transform="translate(340.3 960.7) scale(0.09282700421940929)">
<path d="M38 128 C50 112 58 104 80 102 C100 94 128 96 142 103 C134 112 120 112 110 120 C102 128 96 131 90 130 C84 122 66 126 38 128 Z" fill="#4f8a38"/><path d="M60 112 C80 102 110 100 132 104 C110 104 84 106 60 112 Z" fill="#8cc05a"/>
<path d="M146 140 C300 146 450 128 564 90 C450 112 300 128 146 131 Z" fill="#7ec4ea"/>
<defs><linearGradient id="brg340" x1="0" x2="1" y1="0" y2="0"><stop offset="0" stop-color="#f7d51f"/><stop offset="0.5" stop-color="#f0892a"/><stop offset="1" stop-color="#d8262e"/></linearGradient></defs>
<path d="M146 130 L182 89 L430 89 L456 112 M146 130 L456 116 M182 89 L182 128 M182 128 L222 89 L222 126 L262 89 L262 124 L302 89 L302 122 L342 89 L342 121 L382 89 L382 119 L422 89 L422 117" fill="none" stroke="url(#brg340)" stroke-width="6.5" stroke-linejoin="round"/>
<path d="M466 106 L466 68 L474 60 L480 60 L483 36 L486 60 L492 60 L500 68 L500 104 Z" fill="#2f5fae"/>
<rect x="477" y="78" width="12" height="20" fill="#9ec3ea"/>
<text x="72" y="226" font-family="Liberation Sans, sans-serif" font-weight="700" font-size="112" fill="#1f4b9c" stroke="#1f4b9c" stroke-width="0.8" textLength="445" lengthAdjust="spacingAndGlyphs">coruche</text>
<text x="76" y="268" font-family="Liberation Sans, sans-serif" font-weight="700" font-size="42" fill="#5f83c4" textLength="436" lengthAdjust="spacing">município</text>
</g>
<text x="110" y="995.6" font-family="Liberation Sans, sans-serif" font-size="11.2" fill="#55536a" textLength="90.3" lengthAdjust="spacingAndGlyphs"><tspan font-weight="400">www.</tspan><tspan font-weight="700">cm-coruche</tspan><tspan font-weight="400">.pt</tspan></text>
<g transform="translate(25 875) scale(0.15625)">
<ellipse cx="160" cy="433" rx="88" ry="10" fill="#e6e6e6"/>
<rect x="130" y="345" width="60" height="24" fill="#828286"/>
<rect x="132" y="350" width="22" height="68" fill="#828286"/><rect x="166" y="350" width="22" height="68" fill="#828286"/>
<ellipse cx="141" cy="420" rx="20" ry="8" fill="#a8522c"/><ellipse cx="179" cy="420" rx="20" ry="8" fill="#a8522c"/>
<path d="M196 298 L255 319" stroke="#1f87b5" stroke-width="19" stroke-linecap="round" fill="none"/>
<path d="M120 296 Q120 284 134 284 L186 284 Q200 284 200 296 L196 354 L124 354 Z" fill="#1f87b5"/>

<circle cx="73" cy="220" r="11" fill="#f3b48c"/><circle cx="247" cy="220" r="11" fill="#f3b48c"/>
<ellipse cx="160" cy="212" rx="84" ry="76" fill="#f3b48c"/>
<ellipse cx="160" cy="250" rx="67" ry="34" fill="#e2905e" opacity="0.35"/>
<ellipse cx="139" cy="189" rx="50" ry="38" fill="#fbd0a8" opacity="0.45"/>
<path d="M66 205 C58 130 100 88 152 96 L214 78 L224 106 L246 108 C258 150 250 178 240 192 L226 158 L202 176 L186 150 L160 172 L140 150 L120 176 L108 160 C86 186 80 214 78 232 Z" fill="#f7d47e"/><path d="M100 120 C120 100 150 100 200 92 L212 86 C160 104 130 108 100 120 Z" fill="#fbe6a8"/>
<ellipse cx="133" cy="207" rx="5" ry="8.5" fill="#3a2a2a"/><ellipse cx="187" cy="207" rx="5" ry="8.5" fill="#3a2a2a"/>
<path d="M122 190 Q133 182 144 190 M176 190 Q187 182 198 190" stroke="#6a4a38" stroke-width="3.5" fill="none" stroke-linecap="round"/>
<path d="M124 242 Q160 272 198 238" fill="none" stroke="#8a3a2a" stroke-width="3.5" stroke-linecap="round"/>
<path d="M124 300 L88 312" stroke="#1f87b5" stroke-width="19" stroke-linecap="round"/>
<circle cx="76" cy="303" r="12" fill="#f3b48c"/><rect x="68" y="272" width="11" height="26" rx="5" fill="#f3b48c"/>
<ellipse cx="372" cy="433" rx="88" ry="10" fill="#e6e6e6"/>
<rect x="342" y="345" width="60" height="24" fill="#828286"/>
<rect x="344" y="350" width="22" height="68" fill="#828286"/><rect x="378" y="350" width="22" height="68" fill="#828286"/>
<ellipse cx="353" cy="420" rx="20" ry="8" fill="#a8522c"/><ellipse cx="391" cy="420" rx="20" ry="8" fill="#a8522c"/>
<path d="M336 298 L277 319" stroke="#5a9a4f" stroke-width="19" stroke-linecap="round" fill="none"/>
<path d="M408 298 L467 319" stroke="#5a9a4f" stroke-width="19" stroke-linecap="round" fill="none"/>
<path d="M332 296 Q332 284 346 284 L398 284 Q412 284 412 296 L408 354 L336 354 Z" fill="#a6763f"/>
<path d="M350 284 L372 300 L394 284 Z" fill="#5a9a4f"/>
<circle cx="281" cy="223" r="11" fill="#f3b48c"/><circle cx="463" cy="223" r="11" fill="#f3b48c"/>
<ellipse cx="372" cy="215" rx="88" ry="76" fill="#f3b48c"/>
<ellipse cx="372" cy="253" rx="70" ry="34" fill="#e2905e" opacity="0.35"/>
<ellipse cx="350" cy="192" rx="53" ry="38" fill="#fbd0a8" opacity="0.45"/>
<path d="M312 150 L334 150 L303 218 L295 226 Z" fill="#8a6a4a"/><path d="M432 150 L410 150 L441 218 L449 226 Z" fill="#8a6a4a"/><rect x="307" y="119" width="130" height="40" rx="11" fill="#553626"/><rect x="316" y="123" width="112" height="8" rx="4" fill="#6e4a34"/>
<ellipse cx="345" cy="210" rx="5" ry="8.5" fill="#3a2a2a"/><ellipse cx="399" cy="210" rx="5" ry="8.5" fill="#3a2a2a"/>
<path d="M334 193 Q345 185 356 193 M388 193 Q399 185 410 193" stroke="#6a4a38" stroke-width="3.5" fill="none" stroke-linecap="round"/>
<path d="M326 237 Q372 253 418 237 Q372 293 326 237 Z" fill="#fff" stroke="#8a3a2a" stroke-width="3" stroke-linejoin="round"/>
<circle cx="266" cy="320" r="11" fill="#f3b48c"/>
<circle cx="478" cy="320" r="11" fill="#f3b48c"/>
</g>
<g transform="translate(105 875) scale(0.15625)">
<ellipse cx="-24" cy="258" rx="22" ry="42" transform="rotate(12 -24 258)" fill="#b4522f"/><ellipse cx="168" cy="262" rx="24" ry="44" transform="rotate(-10 168 262)" fill="#b4522f"/>
<ellipse cx="70" cy="433" rx="88" ry="10" fill="#e6e6e6"/>
<rect x="48" y="360" width="12" height="58" fill="#9a9a9e"/><rect x="80" y="360" width="12" height="58" fill="#9a9a9e"/>
<ellipse cx="51" cy="420" rx="20" ry="8" fill="#a8522c"/><ellipse cx="89" cy="420" rx="20" ry="8" fill="#a8522c"/>
<path d="M34 298 L-25 319" stroke="#d63a3a" stroke-width="19" stroke-linecap="round" fill="none"/>
<path d="M106 298 L165 319" stroke="#d63a3a" stroke-width="19" stroke-linecap="round" fill="none"/>
<path d="M30 296 Q30 284 44 284 L96 284 Q110 284 110 296 L106 354 L34 354 Z" fill="#d63a3a"/>
<path d="M34 300 L106 300 L124 366 L112 372 L100 364 L88 372 L76 364 L64 372 L52 364 L40 372 L28 364 L16 366 Z" fill="#d63a3a"/>
<circle cx="-15" cy="223" r="11" fill="#f3b48c"/><circle cx="155" cy="223" r="11" fill="#f3b48c"/>
<ellipse cx="70" cy="215" rx="82" ry="76" fill="#f3b48c"/>
<ellipse cx="70" cy="253" rx="66" ry="34" fill="#e2905e" opacity="0.35"/>
<ellipse cx="50" cy="192" rx="49" ry="38" fill="#fbd0a8" opacity="0.45"/>
<path d="M-14 222 C-20 120 40 92 74 94 C122 92 164 130 156 222 L142 192 C122 150 100 140 76 152 C50 140 20 160 6 202 Z" fill="#b4522f"/>
<ellipse cx="43" cy="210" rx="5" ry="8.5" fill="#3a2a2a"/><ellipse cx="97" cy="210" rx="5" ry="8.5" fill="#3a2a2a"/>
<path d="M32 193 Q43 185 54 193 M86 193 Q97 185 108 193" stroke="#6a4a38" stroke-width="3.5" fill="none" stroke-linecap="round"/>
<path d="M24 237 Q70 253 116 237 Q70 293 24 237 Z" fill="#fff" stroke="#8a3a2a" stroke-width="3" stroke-linejoin="round"/>
<ellipse cx="285" cy="433" rx="88" ry="10" fill="#e6e6e6"/>
<rect x="255" y="345" width="60" height="24" fill="#828286"/>
<rect x="257" y="350" width="22" height="68" fill="#828286"/><rect x="291" y="350" width="22" height="68" fill="#828286"/>
<ellipse cx="266" cy="420" rx="20" ry="8" fill="#a8522c"/><ellipse cx="304" cy="420" rx="20" ry="8" fill="#a8522c"/>
<path d="M249 298 L190 319" stroke="#2a8fbf" stroke-width="19" stroke-linecap="round" fill="none"/>
<path d="M321 298 L380 319" stroke="#2a8fbf" stroke-width="19" stroke-linecap="round" fill="none"/>
<path d="M245 296 Q245 284 259 284 L311 284 Q325 284 325 296 L321 354 L249 354 Z" fill="#2a8fbf"/>
<path d="M268 284 L285 318 L302 284 Z" fill="#fff"/><path d="M281 290 L289 290 L291 318 L285 326 L279 318 Z" fill="#3a3a4a"/>
<circle cx="194" cy="223" r="11" fill="#f3b48c"/><circle cx="376" cy="223" r="11" fill="#f3b48c"/>
<ellipse cx="285" cy="215" rx="88" ry="78" fill="#f3b48c"/>
<ellipse cx="285" cy="253" rx="70" ry="35" fill="#e2905e" opacity="0.35"/>
<ellipse cx="263" cy="192" rx="53" ry="39" fill="#fbd0a8" opacity="0.45"/>
<path d="M243 138 C268 112 300 102 318 68 C336 94 338 120 326 142 C300 126 270 130 243 138 Z" fill="#f7d47e"/>
<ellipse cx="258" cy="210" rx="5" ry="8.5" fill="#3a2a2a"/><ellipse cx="312" cy="210" rx="5" ry="8.5" fill="#3a2a2a"/>
<path d="M247 193 Q258 185 269 193 M301 193 Q312 185 323 193" stroke="#6a4a38" stroke-width="3.5" fill="none" stroke-linecap="round"/>
<path d="M239 237 Q285 253 331 237 Q285 293 239 237 Z" fill="#fff" stroke="#8a3a2a" stroke-width="3" stroke-linejoin="round"/>
<ellipse cx="495" cy="433" rx="88" ry="10" fill="#e6e6e6"/>
<rect x="465" y="345" width="60" height="24" fill="#828286"/>
<rect x="467" y="350" width="22" height="68" fill="#828286"/><rect x="501" y="350" width="22" height="68" fill="#828286"/>
<ellipse cx="476" cy="420" rx="20" ry="8" fill="#a8522c"/><ellipse cx="514" cy="420" rx="20" ry="8" fill="#a8522c"/>
<path d="M459 298 L400 319" stroke="#6e2f2a" stroke-width="19" stroke-linecap="round" fill="none"/>
<path d="M455 296 Q455 284 469 284 L521 284 Q535 284 535 296 L531 354 L459 354 Z" fill="#6e2f2a"/>

<circle cx="404" cy="221" r="11" fill="#f3b48c"/><circle cx="586" cy="221" r="11" fill="#f3b48c"/>
<ellipse cx="495" cy="213" rx="88" ry="78" fill="#f3b48c"/>
<ellipse cx="495" cy="251" rx="70" ry="35" fill="#e2905e" opacity="0.35"/>
<ellipse cx="473" cy="190" rx="53" ry="39" fill="#fbd0a8" opacity="0.45"/>
<path d="M404 204 C398 120 450 94 500 100 C540 100 568 112 580 84 C592 120 588 162 586 204 L570 166 C540 150 472 166 440 150 C420 166 410 186 404 204 Z" fill="#5b3b2a"/>
<ellipse cx="468" cy="208" rx="5" ry="8.5" fill="#3a2a2a"/><ellipse cx="522" cy="208" rx="5" ry="8.5" fill="#3a2a2a"/>
<path d="M457 191 Q468 183 479 191 M511 191 Q522 183 533 191" stroke="#6a4a38" stroke-width="3.5" fill="none" stroke-linecap="round"/>
<path d="M449 235 Q495 251 541 235 Q495 291 449 235 Z" fill="#fff" stroke="#8a3a2a" stroke-width="3" stroke-linejoin="round"/>
<path d="M532 300 L580 292" stroke="#6e2f2a" stroke-width="19" stroke-linecap="round"/>
<circle cx="592" cy="288" r="12" fill="#f3b48c"/><rect x="587" y="258" width="11" height="26" rx="5" fill="#f3b48c"/>
<circle cx="178" cy="320" r="11" fill="#f3b48c"/>
<circle cx="392" cy="320" r="11" fill="#f3b48c"/>
</g>
</svg>
</body></html>
